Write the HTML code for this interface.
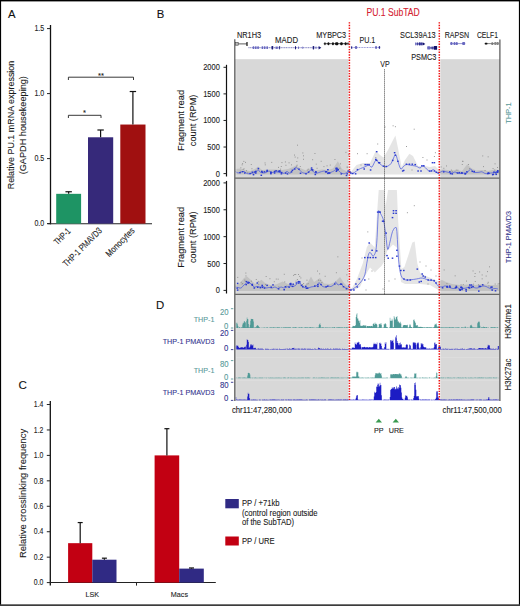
<!DOCTYPE html>
<html><head><meta charset="utf-8"><style>
html,body{margin:0;padding:0;background:#fff;}
svg{display:block;font-family:"Liberation Sans", sans-serif;}

</style></head><body>
<svg width="520" height="606" viewBox="0 0 520 606">
<rect x="0" y="0" width="520" height="606" fill="#fff"/>
<text x="0" y="0" transform="translate(8 18.1)" font-size="11.3" text-anchor="start" fill="#111" stroke="#111" stroke-width="0.1" >A</text>
<line x1="50.5" y1="25" x2="50.5" y2="224.3" stroke="#111" stroke-width="1.3" />
<line x1="47.0" y1="28.599999999999994" x2="50.5" y2="28.599999999999994" stroke="#222" stroke-width="1" />
<text x="0" y="0" transform="translate(44.2 31.199999999999996)" font-size="8.3" text-anchor="end" fill="#222" textLength="9.8" lengthAdjust="spacingAndGlyphs" stroke="#222" stroke-width="0.1" >1.5</text>
<line x1="47.0" y1="93.6" x2="50.5" y2="93.6" stroke="#222" stroke-width="1" />
<text x="0" y="0" transform="translate(44.2 96.19999999999999)" font-size="8.3" text-anchor="end" fill="#222" textLength="9.8" lengthAdjust="spacingAndGlyphs" stroke="#222" stroke-width="0.1" >1.0</text>
<line x1="47.0" y1="158.6" x2="50.5" y2="158.6" stroke="#222" stroke-width="1" />
<text x="0" y="0" transform="translate(44.2 161.2)" font-size="8.3" text-anchor="end" fill="#222" textLength="9.8" lengthAdjust="spacingAndGlyphs" stroke="#222" stroke-width="0.1" >0.5</text>
<line x1="47.0" y1="223.6" x2="50.5" y2="223.6" stroke="#222" stroke-width="1" />
<text x="0" y="0" transform="translate(44.2 226.2)" font-size="8.3" text-anchor="end" fill="#222" textLength="9.8" lengthAdjust="spacingAndGlyphs" stroke="#222" stroke-width="0.1" >0.0</text>
<line x1="47.5" y1="223.75" x2="152" y2="223.75" stroke="#222" stroke-width="1.1" />
<rect x="56.2" y="193.82999999999998" width="24.89999999999999" height="29.77000000000001" fill="#1e9464" />
<line x1="68.65" y1="191.75" x2="68.65" y2="193.82999999999998" stroke="#111" stroke-width="1.2" />
<line x1="65.45" y1="191.75" x2="71.85000000000001" y2="191.75" stroke="#111" stroke-width="1.2" />
<rect x="88" y="137.27999999999997" width="25.200000000000003" height="86.32000000000002" fill="#36297a" />
<line x1="100.6" y1="130.0" x2="100.6" y2="137.27999999999997" stroke="#111" stroke-width="1.2" />
<line x1="97.39999999999999" y1="130.0" x2="103.8" y2="130.0" stroke="#111" stroke-width="1.2" />
<rect x="120.3" y="124.53999999999999" width="25.200000000000003" height="99.06" fill="#a01010" />
<line x1="132.9" y1="91.51999999999998" x2="132.9" y2="124.53999999999999" stroke="#111" stroke-width="1.2" />
<line x1="129.70000000000002" y1="91.51999999999998" x2="136.1" y2="91.51999999999998" stroke="#111" stroke-width="1.2" />
<path d="M68.4 80 V77.2 H133.5 V80" fill="none" stroke="#222" stroke-width="0.9"/>
<path d="M68.4 118 V115.3 H101 V118" fill="none" stroke="#222" stroke-width="0.9"/>
<text x="0" y="0" transform="translate(100.9 77.8)" font-size="7.5" text-anchor="middle" fill="#1a1a1a" stroke="#1a1a1a" stroke-width="0.1" >**</text>
<text x="0" y="0" transform="translate(84.4 115.4)" font-size="7.5" text-anchor="middle" fill="#1a1a1a" stroke="#1a1a1a" stroke-width="0.1" >*</text>
<text x="0" y="0" transform="translate(71.2 231.8) rotate(-45)" font-size="9.2" text-anchor="end" fill="#1a1a1a" textLength="19.5" lengthAdjust="spacingAndGlyphs" stroke="#1a1a1a" stroke-width="0.1" >THP-1</text>
<text x="0" y="0" transform="translate(102.6 231.3) rotate(-45)" font-size="9.2" text-anchor="end" fill="#1a1a1a" textLength="51" lengthAdjust="spacingAndGlyphs" stroke="#1a1a1a" stroke-width="0.1" >THP-1 PMAVD3</text>
<text x="0" y="0" transform="translate(135.3 231.3) rotate(-45)" font-size="9.2" text-anchor="end" fill="#1a1a1a" textLength="37" lengthAdjust="spacingAndGlyphs" stroke="#1a1a1a" stroke-width="0.1" >Monocytes</text>
<text x="0" y="0" transform="translate(13.9 125.0) rotate(-90)" font-size="9.8" text-anchor="middle" fill="#1a1a1a" textLength="128.6" lengthAdjust="spacingAndGlyphs" stroke="#1a1a1a" stroke-width="0.1" >Relative PU.1 mRNA expression</text>
<text x="0" y="0" transform="translate(26.1 125.2) rotate(-90)" font-size="9.8" text-anchor="middle" fill="#1a1a1a" textLength="98.2" lengthAdjust="spacingAndGlyphs" stroke="#1a1a1a" stroke-width="0.1" >(GAPDH housekeeping)</text>
<text x="0" y="0" transform="translate(18.5 389)" font-size="11.6" text-anchor="start" fill="#111" stroke="#111" stroke-width="0.1" >C</text>
<line x1="50.3" y1="401" x2="50.3" y2="585.5" stroke="#111" stroke-width="1.3" />
<line x1="46.8" y1="582.6" x2="50.3" y2="582.6" stroke="#222" stroke-width="1" />
<text x="0" y="0" transform="translate(43.4 585.3000000000001)" font-size="8.3" text-anchor="end" fill="#222" textLength="9.6" lengthAdjust="spacingAndGlyphs" stroke="#222" stroke-width="0.1" >0.0</text>
<line x1="46.8" y1="557.16" x2="50.3" y2="557.16" stroke="#222" stroke-width="1" />
<text x="0" y="0" transform="translate(43.4 559.86)" font-size="8.3" text-anchor="end" fill="#222" textLength="9.6" lengthAdjust="spacingAndGlyphs" stroke="#222" stroke-width="0.1" >0.2</text>
<line x1="46.8" y1="531.72" x2="50.3" y2="531.72" stroke="#222" stroke-width="1" />
<text x="0" y="0" transform="translate(43.4 534.4200000000001)" font-size="8.3" text-anchor="end" fill="#222" textLength="9.6" lengthAdjust="spacingAndGlyphs" stroke="#222" stroke-width="0.1" >0.4</text>
<line x1="46.8" y1="506.28000000000003" x2="50.3" y2="506.28000000000003" stroke="#222" stroke-width="1" />
<text x="0" y="0" transform="translate(43.4 508.98)" font-size="8.3" text-anchor="end" fill="#222" textLength="9.6" lengthAdjust="spacingAndGlyphs" stroke="#222" stroke-width="0.1" >0.6</text>
<line x1="46.8" y1="480.84000000000003" x2="50.3" y2="480.84000000000003" stroke="#222" stroke-width="1" />
<text x="0" y="0" transform="translate(43.4 483.54)" font-size="8.3" text-anchor="end" fill="#222" textLength="9.6" lengthAdjust="spacingAndGlyphs" stroke="#222" stroke-width="0.1" >0.8</text>
<line x1="46.8" y1="455.40000000000003" x2="50.3" y2="455.40000000000003" stroke="#222" stroke-width="1" />
<text x="0" y="0" transform="translate(43.4 458.1)" font-size="8.3" text-anchor="end" fill="#222" textLength="9.6" lengthAdjust="spacingAndGlyphs" stroke="#222" stroke-width="0.1" >1.0</text>
<line x1="46.8" y1="429.96000000000004" x2="50.3" y2="429.96000000000004" stroke="#222" stroke-width="1" />
<text x="0" y="0" transform="translate(43.4 432.66)" font-size="8.3" text-anchor="end" fill="#222" textLength="9.6" lengthAdjust="spacingAndGlyphs" stroke="#222" stroke-width="0.1" >1.2</text>
<line x1="46.8" y1="404.52" x2="50.3" y2="404.52" stroke="#222" stroke-width="1" />
<text x="0" y="0" transform="translate(43.4 407.21999999999997)" font-size="8.3" text-anchor="end" fill="#222" textLength="9.6" lengthAdjust="spacingAndGlyphs" stroke="#222" stroke-width="0.1" >1.4</text>
<line x1="50.3" y1="582.5" x2="215.8" y2="582.5" stroke="#222" stroke-width="1.1" />
<line x1="136.5" y1="582.5" x2="136.5" y2="585.6" stroke="#222" stroke-width="1" />
<rect x="68.1" y="543.168" width="24.200000000000003" height="39.432000000000016" fill="#c20012" />
<line x1="80.19999999999999" y1="522.5616" x2="80.19999999999999" y2="543.168" stroke="#111" stroke-width="1.2" />
<line x1="77.69999999999999" y1="522.5616" x2="82.69999999999999" y2="522.5616" stroke="#111" stroke-width="1.2" />
<rect x="92.3" y="559.7040000000001" width="24.200000000000003" height="22.895999999999958" fill="#302a84" />
<line x1="104.4" y1="558.1776" x2="104.4" y2="559.7040000000001" stroke="#111" stroke-width="1.2" />
<line x1="101.9" y1="558.1776" x2="106.9" y2="558.1776" stroke="#111" stroke-width="1.2" />
<rect x="154.6" y="455.40000000000003" width="24.599999999999994" height="127.19999999999999" fill="#c20012" />
<line x1="166.89999999999998" y1="428.688" x2="166.89999999999998" y2="455.40000000000003" stroke="#111" stroke-width="1.2" />
<line x1="164.39999999999998" y1="428.688" x2="169.39999999999998" y2="428.688" stroke="#111" stroke-width="1.2" />
<rect x="179.2" y="568.6080000000001" width="24.600000000000023" height="13.991999999999962" fill="#302a84" />
<line x1="191.5" y1="567.972" x2="191.5" y2="568.6080000000001" stroke="#111" stroke-width="1.2" />
<line x1="189.0" y1="567.972" x2="194.0" y2="567.972" stroke="#111" stroke-width="1.2" />
<text x="0" y="0" transform="translate(92.3 596.8) scale(0.9 1)" font-size="8" text-anchor="middle" fill="#222" stroke="#222" stroke-width="0.1" >LSK</text>
<text x="0" y="0" transform="translate(179.4 596.8) scale(0.9 1)" font-size="8" text-anchor="middle" fill="#222" stroke="#222" stroke-width="0.1" >Macs</text>
<text x="0" y="0" transform="translate(26.2 493.5) rotate(-90)" font-size="9.8" text-anchor="middle" fill="#1a1a1a" textLength="129.2" lengthAdjust="spacingAndGlyphs" stroke="#1a1a1a" stroke-width="0.1" >Relative crosslinking frequency</text>
<rect x="225.3" y="499" width="13.5" height="9.3" fill="#302a84" />
<rect x="225.3" y="536.5" width="13.5" height="9" fill="#c20012" />
<text x="0" y="0" transform="translate(242.0 506.4) scale(0.89 1)" font-size="8.6" text-anchor="start" fill="#1a1a1a" stroke="#1a1a1a" stroke-width="0.1" >PP / +71kb</text>
<text x="0" y="0" transform="translate(242.0 515.5) scale(0.89 1)" font-size="8.6" text-anchor="start" fill="#1a1a1a" stroke="#1a1a1a" stroke-width="0.1" >(control region outside</text>
<text x="0" y="0" transform="translate(242.0 524.6) scale(0.89 1)" font-size="8.6" text-anchor="start" fill="#1a1a1a" stroke="#1a1a1a" stroke-width="0.1" >of the SubTAD)</text>
<text x="0" y="0" transform="translate(242.0 544.0) scale(0.89 1)" font-size="8.6" text-anchor="start" fill="#1a1a1a" stroke="#1a1a1a" stroke-width="0.1" >PP / URE</text>
<text x="0" y="0" transform="translate(156.8 17.7)" font-size="11.3" text-anchor="start" fill="#111" stroke="#111" stroke-width="0.1" >B</text>
<text x="0" y="0" transform="translate(366.4 16.2)" font-size="10.3" text-anchor="start" fill="#d42030" textLength="53.4" lengthAdjust="spacingAndGlyphs" stroke="#d42030" stroke-width="0.1" >PU.1 SubTAD</text>
<rect x="234.8" y="59.2" width="113.59999999999997" height="235.3" fill="#d8d8d8" />
<rect x="440.4" y="59.2" width="59.5" height="235.3" fill="#d8d8d8" />
<rect x="234.8" y="294.5" width="113.59999999999997" height="106.5" fill="#d8d8d8" />
<rect x="440.4" y="294.5" width="59.5" height="106.5" fill="#d8d8d8" />
<polygon points="235.5,169.0 240.0,168.5 245.0,170.0 250.0,171.0 255.0,169.0 258.0,166.5 262.0,170.0 268.0,169.5 275.0,169.5 282.0,170.0 288.0,169.0 293.0,167.0 296.0,165.5 300.0,168.0 306.0,170.5 311.0,168.0 316.0,170.5 322.0,169.5 328.0,170.0 333.0,168.5 337.9,161.2 342.0,169.0 346.0,171.0 349.0,172.0 350.8,172.0 356.5,165.0 363.0,163.0 370.0,163.0 375.8,150.8 380.0,155.0 383.5,157.5 388.0,150.0 392.0,142.0 395.4,135.4 398.0,148.0 401.7,167.0 405.0,160.0 409.4,153.7 413.0,156.0 418.0,166.0 425.0,166.0 430.0,167.0 435.0,166.0 439.0,170.0 444.0,169.5 450.0,170.5 456.0,170.0 462.0,171.0 467.3,164.2 471.0,168.0 476.0,170.5 482.0,170.0 488.0,171.0 494.0,169.5 499.0,170.0 499.0,174.5 235.5,174.5" fill="#000" fill-opacity="0.1"/>
<polygon points="235.5,285.0 240.0,283.0 244.0,278.0 247.0,276.5 251.0,280.0 255.0,284.0 258.0,282.0 261.5,279.8 265.0,283.0 270.0,285.0 276.0,284.5 282.6,281.5 288.0,284.0 294.0,284.0 300.0,283.5 305.0,285.0 308.0,282.0 311.0,276.5 314.0,282.0 320.0,278.0 324.0,283.5 330.0,284.0 335.0,282.0 340.0,277.0 344.0,283.0 349.0,288.0 352.0,288.0 356.9,279.0 362.8,263.2 366.8,247.3 369.8,242.4 374.7,247.3 377.7,203.8 378.7,190.0 384.2,190.0 385.6,206.0 388.0,190.0 396.9,190.0 398.1,219.6 401.4,269.0 404.4,267.0 408.4,255.0 412.3,242.4 414.7,241.4 417.3,263.2 420.2,273.0 428.2,277.0 438.0,281.0 442.0,280.0 446.0,282.0 452.0,284.0 460.0,285.0 468.0,284.5 475.0,285.0 482.0,284.0 490.0,285.0 499.0,285.0 499.0,291.0 440.0,291.0 430.0,285.0 420.0,284.0 405.0,284.0 401.0,282.0 397.0,247.7 393.0,244.4 387.2,251.0 384.0,262.0 381.5,265.9 378.2,269.0 374.9,272.5 370.0,267.5 365.0,276.0 360.0,287.0 352.0,291.0 235.5,291.0" fill="#000" fill-opacity="0.1"/>
<rect x="392.6" y="125.3" width="1" height="1" fill="#999"/>
<rect x="394.9" y="126.2" width="1" height="1" fill="#999"/>
<rect x="413.7" y="128.7" width="1" height="1" fill="#999"/>
<rect x="406.0" y="146.0" width="1" height="1" fill="#999"/>
<rect x="377.2" y="143.5" width="1" height="1" fill="#999"/>
<rect x="357.0" y="153.2" width="1" height="1" fill="#999"/>
<rect x="366.6" y="153.2" width="1" height="1" fill="#999"/>
<rect x="422.4" y="157.0" width="1" height="1" fill="#999"/>
<rect x="433.9" y="156.0" width="1" height="1" fill="#999"/>
<rect x="434.9" y="152.2" width="1" height="1" fill="#999"/>
<rect x="375.3" y="157.0" width="1" height="1" fill="#999"/>
<rect x="346.4" y="166.6" width="1" height="1" fill="#999"/>
<rect x="384.5" y="126.5" width="1" height="1" fill="#999"/>
<rect x="360.5" y="164.5" width="1" height="1" fill="#999"/>
<rect x="411.5" y="169.5" width="1" height="1" fill="#999"/>
<rect x="426.5" y="159.5" width="1" height="1" fill="#999"/>
<rect x="367.3" y="231.4" width="1" height="1" fill="#999"/>
<rect x="413.8" y="205.2" width="1" height="1" fill="#999"/>
<rect x="406.9" y="212.2" width="1" height="1" fill="#999"/>
<rect x="368.3" y="278.5" width="1" height="1" fill="#999"/>
<rect x="361.5" y="257.5" width="1" height="1" fill="#999"/>
<rect x="371.5" y="270.5" width="1" height="1" fill="#999"/>
<rect x="419.5" y="261.5" width="1" height="1" fill="#999"/>
<rect x="425.5" y="265.5" width="1" height="1" fill="#999"/>
<rect x="430.5" y="269.5" width="1" height="1" fill="#999"/>
<rect x="388.5" y="280.5" width="1" height="1" fill="#999"/>
<rect x="394.5" y="278.5" width="1" height="1" fill="#999"/>
<rect x="427.5" y="283.5" width="1" height="1" fill="#999"/>
<rect x="435.5" y="275.5" width="1" height="1" fill="#999"/>
<rect x="365.5" y="289.5" width="1" height="1" fill="#999"/>
<rect x="382.5" y="288.5" width="1" height="1" fill="#999"/>
<rect x="271.3" y="161.9" width="0.9" height="0.9" fill="#888"/>
<rect x="303.1" y="158.8" width="0.9" height="0.9" fill="#888"/>
<rect x="443.4" y="167.8" width="0.9" height="0.9" fill="#888"/>
<rect x="455.8" y="169.6" width="0.9" height="0.9" fill="#888"/>
<rect x="349.8" y="171.4" width="0.9" height="0.9" fill="#888"/>
<rect x="296.2" y="165.7" width="0.9" height="0.9" fill="#888"/>
<rect x="484.6" y="170.0" width="0.9" height="0.9" fill="#888"/>
<rect x="242.7" y="168.9" width="0.9" height="0.9" fill="#888"/>
<rect x="483.0" y="166.2" width="0.9" height="0.9" fill="#888"/>
<rect x="347.0" y="166.7" width="0.9" height="0.9" fill="#888"/>
<rect x="243.6" y="168.4" width="0.9" height="0.9" fill="#888"/>
<rect x="297.3" y="157.5" width="0.9" height="0.9" fill="#888"/>
<rect x="296.7" y="164.7" width="0.9" height="0.9" fill="#888"/>
<rect x="312.2" y="159.3" width="0.9" height="0.9" fill="#888"/>
<rect x="241.7" y="164.4" width="0.9" height="0.9" fill="#888"/>
<rect x="284.9" y="161.5" width="0.9" height="0.9" fill="#888"/>
<rect x="497.0" y="167.1" width="0.9" height="0.9" fill="#888"/>
<rect x="323.5" y="166.2" width="0.9" height="0.9" fill="#888"/>
<rect x="482.3" y="155.5" width="0.9" height="0.9" fill="#888"/>
<rect x="315.8" y="163.7" width="0.9" height="0.9" fill="#888"/>
<rect x="468.1" y="164.1" width="0.9" height="0.9" fill="#888"/>
<rect x="245.1" y="161.9" width="0.9" height="0.9" fill="#888"/>
<rect x="299.8" y="166.1" width="0.9" height="0.9" fill="#888"/>
<rect x="281.5" y="162.2" width="0.9" height="0.9" fill="#888"/>
<rect x="334.5" y="159.1" width="0.9" height="0.9" fill="#888"/>
<rect x="440.7" y="166.5" width="0.9" height="0.9" fill="#888"/>
<rect x="339.4" y="167.8" width="0.9" height="0.9" fill="#888"/>
<rect x="247.4" y="171.9" width="0.9" height="0.9" fill="#888"/>
<rect x="494.6" y="163.4" width="0.9" height="0.9" fill="#888"/>
<rect x="280.8" y="166.0" width="0.9" height="0.9" fill="#888"/>
<rect x="494.3" y="169.6" width="0.9" height="0.9" fill="#888"/>
<rect x="462.3" y="160.7" width="0.9" height="0.9" fill="#888"/>
<rect x="297.1" y="144.7" width="0.9" height="0.9" fill="#888"/>
<rect x="306.8" y="169.6" width="0.9" height="0.9" fill="#888"/>
<rect x="487.7" y="156.4" width="0.9" height="0.9" fill="#888"/>
<rect x="451.8" y="170.9" width="0.9" height="0.9" fill="#888"/>
<rect x="469.1" y="168.2" width="0.9" height="0.9" fill="#888"/>
<rect x="348.1" y="154.4" width="0.9" height="0.9" fill="#888"/>
<rect x="250.8" y="164.1" width="0.9" height="0.9" fill="#888"/>
<rect x="288.6" y="162.4" width="0.9" height="0.9" fill="#888"/>
<rect x="329.8" y="164.6" width="0.9" height="0.9" fill="#888"/>
<rect x="243.4" y="160.9" width="0.9" height="0.9" fill="#888"/>
<rect x="296.4" y="161.1" width="0.9" height="0.9" fill="#888"/>
<rect x="462.4" y="161.1" width="0.9" height="0.9" fill="#888"/>
<rect x="446.0" y="165.5" width="0.9" height="0.9" fill="#888"/>
<rect x="303.1" y="155.4" width="0.9" height="0.9" fill="#888"/>
<rect x="457.4" y="169.7" width="0.9" height="0.9" fill="#888"/>
<rect x="240.4" y="167.4" width="0.9" height="0.9" fill="#888"/>
<rect x="239.8" y="170.7" width="0.9" height="0.9" fill="#888"/>
<rect x="264.8" y="164.4" width="0.9" height="0.9" fill="#888"/>
<rect x="326.6" y="165.4" width="0.9" height="0.9" fill="#888"/>
<rect x="280.2" y="168.7" width="0.9" height="0.9" fill="#888"/>
<rect x="307.8" y="168.7" width="0.9" height="0.9" fill="#888"/>
<rect x="320.7" y="160.8" width="0.9" height="0.9" fill="#888"/>
<rect x="242.2" y="163.2" width="0.9" height="0.9" fill="#888"/>
<rect x="285.5" y="164.8" width="0.9" height="0.9" fill="#888"/>
<rect x="264.6" y="162.5" width="0.9" height="0.9" fill="#888"/>
<rect x="291.0" y="164.4" width="0.9" height="0.9" fill="#888"/>
<rect x="450.9" y="169.6" width="0.9" height="0.9" fill="#888"/>
<rect x="274.5" y="170.2" width="0.9" height="0.9" fill="#888"/>
<rect x="278.1" y="166.9" width="0.9" height="0.9" fill="#888"/>
<rect x="294.0" y="154.6" width="0.9" height="0.9" fill="#888"/>
<rect x="492.6" y="168.1" width="0.9" height="0.9" fill="#888"/>
<rect x="294.7" y="156.6" width="0.9" height="0.9" fill="#888"/>
<rect x="339.9" y="163.4" width="0.9" height="0.9" fill="#888"/>
<rect x="251.5" y="168.3" width="0.9" height="0.9" fill="#888"/>
<rect x="314.5" y="153.1" width="0.9" height="0.9" fill="#888"/>
<rect x="316.6" y="167.8" width="0.9" height="0.9" fill="#888"/>
<rect x="461.8" y="164.0" width="0.9" height="0.9" fill="#888"/>
<rect x="345.5" y="151.9" width="0.9" height="0.9" fill="#888"/>
<rect x="302.4" y="152.5" width="0.9" height="0.9" fill="#888"/>
<rect x="246.0" y="170.3" width="0.9" height="0.9" fill="#888"/>
<rect x="487.4" y="282.8" width="0.9" height="0.9" fill="#888"/>
<rect x="258.3" y="284.2" width="0.9" height="0.9" fill="#888"/>
<rect x="455.7" y="285.2" width="0.9" height="0.9" fill="#888"/>
<rect x="317.0" y="270.6" width="0.9" height="0.9" fill="#888"/>
<rect x="277.7" y="278.7" width="0.9" height="0.9" fill="#888"/>
<rect x="497.6" y="283.6" width="0.9" height="0.9" fill="#888"/>
<rect x="485.7" y="275.6" width="0.9" height="0.9" fill="#888"/>
<rect x="306.5" y="283.6" width="0.9" height="0.9" fill="#888"/>
<rect x="245.4" y="272.6" width="0.9" height="0.9" fill="#888"/>
<rect x="319.8" y="280.2" width="0.9" height="0.9" fill="#888"/>
<rect x="335.9" y="272.3" width="0.9" height="0.9" fill="#888"/>
<rect x="298.1" y="274.1" width="0.9" height="0.9" fill="#888"/>
<rect x="242.3" y="283.0" width="0.9" height="0.9" fill="#888"/>
<rect x="498.7" y="283.2" width="0.9" height="0.9" fill="#888"/>
<rect x="283.8" y="273.8" width="0.9" height="0.9" fill="#888"/>
<rect x="474.4" y="276.1" width="0.9" height="0.9" fill="#888"/>
<rect x="443.7" y="269.5" width="0.9" height="0.9" fill="#888"/>
<rect x="489.0" y="266.4" width="0.9" height="0.9" fill="#888"/>
<rect x="278.4" y="286.4" width="0.9" height="0.9" fill="#888"/>
<rect x="479.2" y="271.5" width="0.9" height="0.9" fill="#888"/>
<rect x="454.7" y="275.4" width="0.9" height="0.9" fill="#888"/>
<rect x="472.6" y="270.5" width="0.9" height="0.9" fill="#888"/>
<rect x="478.0" y="284.4" width="0.9" height="0.9" fill="#888"/>
<rect x="294.3" y="274.1" width="0.9" height="0.9" fill="#888"/>
<rect x="321.4" y="282.1" width="0.9" height="0.9" fill="#888"/>
<rect x="474.8" y="281.0" width="0.9" height="0.9" fill="#888"/>
<rect x="306.5" y="279.7" width="0.9" height="0.9" fill="#888"/>
<rect x="487.8" y="281.8" width="0.9" height="0.9" fill="#888"/>
<rect x="318.0" y="279.7" width="0.9" height="0.9" fill="#888"/>
<rect x="481.7" y="274.5" width="0.9" height="0.9" fill="#888"/>
<rect x="255.8" y="279.0" width="0.9" height="0.9" fill="#888"/>
<rect x="474.7" y="273.0" width="0.9" height="0.9" fill="#888"/>
<rect x="286.3" y="285.6" width="0.9" height="0.9" fill="#888"/>
<rect x="307.8" y="283.3" width="0.9" height="0.9" fill="#888"/>
<rect x="295.6" y="280.7" width="0.9" height="0.9" fill="#888"/>
<rect x="460.6" y="284.4" width="0.9" height="0.9" fill="#888"/>
<rect x="300.4" y="277.5" width="0.9" height="0.9" fill="#888"/>
<rect x="347.2" y="269.1" width="0.9" height="0.9" fill="#888"/>
<rect x="244.4" y="279.6" width="0.9" height="0.9" fill="#888"/>
<rect x="257.8" y="280.9" width="0.9" height="0.9" fill="#888"/>
<rect x="487.0" y="271.2" width="0.9" height="0.9" fill="#888"/>
<rect x="241.6" y="283.6" width="0.9" height="0.9" fill="#888"/>
<rect x="303.2" y="283.1" width="0.9" height="0.9" fill="#888"/>
<rect x="284.3" y="281.5" width="0.9" height="0.9" fill="#888"/>
<rect x="337.4" y="256.4" width="0.9" height="0.9" fill="#888"/>
<rect x="275.8" y="278.6" width="0.9" height="0.9" fill="#888"/>
<rect x="245.5" y="275.5" width="0.9" height="0.9" fill="#888"/>
<rect x="265.7" y="276.1" width="0.9" height="0.9" fill="#888"/>
<rect x="324.7" y="275.8" width="0.9" height="0.9" fill="#888"/>
<rect x="473.2" y="283.7" width="0.9" height="0.9" fill="#888"/>
<rect x="462.8" y="284.2" width="0.9" height="0.9" fill="#888"/>
<rect x="295.3" y="274.1" width="0.9" height="0.9" fill="#888"/>
<rect x="319.2" y="273.4" width="0.9" height="0.9" fill="#888"/>
<rect x="466.1" y="280.6" width="0.9" height="0.9" fill="#888"/>
<rect x="269.5" y="278.3" width="0.9" height="0.9" fill="#888"/>
<rect x="273.8" y="281.3" width="0.9" height="0.9" fill="#888"/>
<rect x="488.4" y="285.5" width="0.9" height="0.9" fill="#888"/>
<rect x="346.4" y="274.4" width="0.9" height="0.9" fill="#888"/>
<rect x="240.7" y="281.8" width="0.9" height="0.9" fill="#888"/>
<rect x="250.9" y="280.7" width="0.9" height="0.9" fill="#888"/>
<rect x="244.8" y="280.8" width="0.9" height="0.9" fill="#888"/>
<rect x="494.7" y="283.6" width="0.9" height="0.9" fill="#888"/>
<rect x="481.7" y="278.4" width="0.9" height="0.9" fill="#888"/>
<rect x="302.0" y="284.2" width="0.9" height="0.9" fill="#888"/>
<rect x="446.5" y="283.2" width="0.9" height="0.9" fill="#888"/>
<rect x="347.3" y="280.4" width="0.9" height="0.9" fill="#888"/>
<rect x="237.3" y="276.9" width="0.9" height="0.9" fill="#888"/>
<rect x="265.2" y="284.1" width="0.9" height="0.9" fill="#888"/>
<rect x="299.3" y="275.9" width="0.9" height="0.9" fill="#888"/>
<rect x="296.9" y="279.1" width="0.9" height="0.9" fill="#888"/>
<rect x="293.2" y="274.9" width="0.9" height="0.9" fill="#888"/>
<polyline points="235.5,171.5 236.1,172.0 237.0,172.6 238.0,173.0 239.0,172.8 240.0,172.4 241.0,172.0 242.0,171.7 243.0,171.5 244.0,171.5 245.0,172.0 246.0,172.9 247.0,173.5 248.0,173.8 249.0,173.8 250.0,173.8 251.0,173.6 252.0,173.3 253.0,173.0 254.0,172.9 255.1,172.8 256.0,172.5 256.7,171.5 257.4,170.2 258.0,169.5 258.6,170.0 259.3,171.1 260.0,172.0 260.9,172.5 262.0,172.8 263.0,173.0 264.0,173.0 265.0,172.8 266.0,172.5 267.0,172.0 268.0,171.3 269.0,171.0 270.0,171.4 271.0,172.1 272.0,172.5 273.0,172.4 274.0,172.0 275.0,171.8 276.0,171.9 277.0,172.0 278.0,172.2 279.0,172.3 280.0,172.4 281.0,172.5 282.0,172.8 283.0,173.2 284.0,173.3 285.0,172.8 286.0,171.9 287.0,171.5 288.0,172.0 289.0,172.9 290.0,173.3 291.0,172.5 292.0,171.2 293.0,170.0 293.9,168.9 294.8,167.9 295.8,167.5 296.9,167.9 298.0,168.8 299.2,169.8 300.4,170.8 301.5,171.9 302.7,172.7 303.9,173.1 305.1,173.3 306.2,173.3 307.2,173.0 308.1,172.6 309.0,172.0 309.7,171.1 310.4,170.1 311.3,169.8 312.5,170.7 313.9,172.3 315.4,173.3 316.9,173.2 318.4,172.7 320.0,172.1 321.5,171.6 323.1,171.2 324.6,171.0 326.1,171.5 327.7,172.3 329.2,172.7 330.8,172.4 332.4,171.7 333.8,171.0 334.8,170.2 335.7,169.4 336.7,169.2 338.0,170.1 339.4,171.5 340.8,172.7 342.0,173.3 343.1,173.7 344.2,173.8 345.4,173.3 346.6,172.6 347.7,172.1 348.5,172.2 349.1,172.6 349.8,172.9 350.6,173.3 351.5,173.6 352.7,173.5 354.4,172.5 356.5,171.0 358.5,169.6 360.4,168.6 362.4,167.8 364.2,167.1 365.9,166.3 367.6,165.5 369.0,165.2 370.1,165.9 371.0,167.0 372.0,167.1 373.2,165.0 374.6,162.0 375.8,160.0 376.8,160.2 377.7,161.4 378.7,162.7 379.9,163.8 381.2,164.9 382.5,165.8 383.7,166.4 385.0,166.8 386.3,166.7 387.9,166.1 389.6,165.0 391.2,163.3 392.7,160.2 394.2,156.6 395.4,154.6 396.3,155.7 397.1,158.4 397.9,161.3 398.8,164.2 399.8,167.2 400.8,169.0 401.8,168.8 402.7,167.4 403.7,166.2 404.6,165.5 405.5,164.9 406.5,164.6 407.6,164.6 408.9,164.9 410.4,165.2 412.3,165.5 414.3,165.8 416.2,166.2 417.6,166.9 418.9,167.7 420.0,168.0 421.0,167.4 421.9,166.3 422.9,165.8 424.1,166.5 425.5,167.8 426.7,169.0 427.7,170.0 428.6,171.0 429.6,171.5 430.8,171.0 432.2,170.0 433.5,169.6 434.8,170.5 436.1,171.9 437.3,172.9 438.3,173.0 439.3,172.7 440.2,172.3 441.1,171.8 442.1,171.3 443.0,171.0 444.0,171.1 445.0,171.5 446.0,171.8 447.0,172.0 448.0,172.3 449.0,172.5 450.0,172.7 451.0,173.0 452.0,173.0 453.0,172.7 454.0,172.2 455.0,172.0 456.0,172.3 457.0,172.8 458.0,173.2 459.0,173.4 460.0,173.5 461.0,173.5 462.0,173.4 463.0,173.2 464.0,173.0 465.0,173.0 465.9,173.1 467.0,172.8 468.2,171.5 469.5,169.9 470.7,169.0 471.5,169.6 472.2,170.9 473.0,172.0 473.9,172.4 475.0,172.5 476.0,172.5 477.0,172.5 478.0,172.4 479.0,172.3 480.0,172.1 481.0,171.8 482.0,171.8 483.0,172.3 484.0,173.0 485.0,173.5 486.0,173.7 487.0,173.7 488.0,173.6 489.0,173.4 490.0,173.2 491.0,173.0 492.0,172.9 493.0,172.8 494.0,172.6 495.0,172.2 496.1,171.8 497.0,171.5 497.8,171.6 498.5,171.8 499.0,172.0" fill="none" stroke="#4858e0" stroke-width="0.7"/>
<rect x="375.9" y="151.0" width="1.6" height="1.4" fill="#2a3ad0"/>
<rect x="375.0" y="158.7" width="1.6" height="1.4" fill="#2a3ad0"/>
<rect x="375.9" y="159.7" width="1.6" height="1.4" fill="#2a3ad0"/>
<rect x="382.7" y="165.5" width="1.6" height="1.4" fill="#2a3ad0"/>
<rect x="385.5" y="165.8" width="1.6" height="1.4" fill="#2a3ad0"/>
<rect x="393.8" y="152.0" width="1.6" height="1.4" fill="#2a3ad0"/>
<rect x="394.6" y="154.5" width="1.6" height="1.4" fill="#2a3ad0"/>
<rect x="391.9" y="159.7" width="1.6" height="1.4" fill="#2a3ad0"/>
<rect x="397.1" y="160.6" width="1.6" height="1.4" fill="#2a3ad0"/>
<rect x="368.2" y="163.9" width="1.6" height="1.4" fill="#2a3ad0"/>
<rect x="366.3" y="163.9" width="1.6" height="1.4" fill="#2a3ad0"/>
<rect x="364.4" y="163.9" width="1.6" height="1.4" fill="#2a3ad0"/>
<rect x="369.8" y="169.3" width="1.6" height="1.4" fill="#2a3ad0"/>
<rect x="363.4" y="168.3" width="1.6" height="1.4" fill="#2a3ad0"/>
<rect x="356.7" y="168.9" width="1.6" height="1.4" fill="#2a3ad0"/>
<rect x="354.8" y="173.1" width="1.6" height="1.4" fill="#2a3ad0"/>
<rect x="351.9" y="172.8" width="1.6" height="1.4" fill="#2a3ad0"/>
<rect x="350.0" y="172.2" width="1.6" height="1.4" fill="#2a3ad0"/>
<rect x="377.9" y="162.0" width="1.6" height="1.4" fill="#2a3ad0"/>
<rect x="378.8" y="162.0" width="1.6" height="1.4" fill="#2a3ad0"/>
<rect x="401.9" y="170.3" width="1.6" height="1.4" fill="#2a3ad0"/>
<rect x="402.9" y="169.7" width="1.6" height="1.4" fill="#2a3ad0"/>
<rect x="405.7" y="163.5" width="1.6" height="1.4" fill="#2a3ad0"/>
<rect x="408.6" y="163.5" width="1.6" height="1.4" fill="#2a3ad0"/>
<rect x="411.5" y="163.5" width="1.6" height="1.4" fill="#2a3ad0"/>
<rect x="414.4" y="163.9" width="1.6" height="1.4" fill="#2a3ad0"/>
<rect x="417.3" y="170.3" width="1.6" height="1.4" fill="#2a3ad0"/>
<rect x="420.2" y="170.3" width="1.6" height="1.4" fill="#2a3ad0"/>
<rect x="421.1" y="165.1" width="1.6" height="1.4" fill="#2a3ad0"/>
<rect x="423.0" y="165.1" width="1.6" height="1.4" fill="#2a3ad0"/>
<rect x="428.8" y="170.3" width="1.6" height="1.4" fill="#2a3ad0"/>
<rect x="430.7" y="170.3" width="1.6" height="1.4" fill="#2a3ad0"/>
<rect x="433.6" y="170.3" width="1.6" height="1.4" fill="#2a3ad0"/>
<rect x="431.7" y="162.0" width="1.6" height="1.4" fill="#2a3ad0"/>
<rect x="433.6" y="162.0" width="1.6" height="1.4" fill="#2a3ad0"/>
<rect x="435.5" y="171.6" width="1.6" height="1.4" fill="#2a3ad0"/>
<rect x="437.5" y="172.2" width="1.6" height="1.4" fill="#2a3ad0"/>
<rect x="336.3" y="169.2" width="1.6" height="1.4" fill="#2a3ad0"/>
<rect x="473.4" y="170.8" width="1.6" height="1.4" fill="#2a3ad0"/>
<rect x="311.1" y="168.9" width="1.6" height="1.4" fill="#2a3ad0"/>
<rect x="270.0" y="172.1" width="1.6" height="1.4" fill="#2a3ad0"/>
<rect x="255.0" y="170.7" width="1.6" height="1.4" fill="#2a3ad0"/>
<rect x="488.0" y="172.7" width="1.6" height="1.4" fill="#2a3ad0"/>
<rect x="496.8" y="171.2" width="1.6" height="1.4" fill="#2a3ad0"/>
<rect x="336.2" y="167.6" width="1.6" height="1.4" fill="#2a3ad0"/>
<rect x="471.5" y="170.7" width="1.6" height="1.4" fill="#2a3ad0"/>
<rect x="299.7" y="172.6" width="1.6" height="1.4" fill="#2a3ad0"/>
<rect x="487.6" y="172.5" width="1.6" height="1.4" fill="#2a3ad0"/>
<rect x="327.1" y="169.0" width="1.6" height="1.4" fill="#2a3ad0"/>
<rect x="327.1" y="172.7" width="1.6" height="1.4" fill="#2a3ad0"/>
<rect x="261.0" y="170.7" width="1.6" height="1.4" fill="#2a3ad0"/>
<rect x="251.5" y="171.5" width="1.6" height="1.4" fill="#2a3ad0"/>
<rect x="305.2" y="173.1" width="1.6" height="1.4" fill="#2a3ad0"/>
<rect x="449.8" y="172.9" width="1.6" height="1.4" fill="#2a3ad0"/>
<rect x="261.6" y="171.6" width="1.6" height="1.4" fill="#2a3ad0"/>
<rect x="284.9" y="172.4" width="1.6" height="1.4" fill="#2a3ad0"/>
<rect x="335.6" y="170.6" width="1.6" height="1.4" fill="#2a3ad0"/>
<rect x="492.6" y="173.6" width="1.6" height="1.4" fill="#2a3ad0"/>
<rect x="270.2" y="171.5" width="1.6" height="1.4" fill="#2a3ad0"/>
<rect x="458.5" y="171.9" width="1.6" height="1.4" fill="#2a3ad0"/>
<rect x="464.7" y="172.9" width="1.6" height="1.4" fill="#2a3ad0"/>
<rect x="239.2" y="172.0" width="1.6" height="1.4" fill="#2a3ad0"/>
<rect x="345.7" y="174.8" width="1.6" height="1.4" fill="#2a3ad0"/>
<rect x="260.5" y="174.6" width="1.6" height="1.4" fill="#2a3ad0"/>
<rect x="347.4" y="170.3" width="1.6" height="1.4" fill="#2a3ad0"/>
<rect x="286.7" y="173.2" width="1.6" height="1.4" fill="#2a3ad0"/>
<rect x="328.1" y="172.3" width="1.6" height="1.4" fill="#2a3ad0"/>
<rect x="310.8" y="167.3" width="1.6" height="1.4" fill="#2a3ad0"/>
<rect x="337.4" y="168.8" width="1.6" height="1.4" fill="#2a3ad0"/>
<rect x="451.5" y="173.2" width="1.6" height="1.4" fill="#2a3ad0"/>
<rect x="487.6" y="172.5" width="1.6" height="1.4" fill="#2a3ad0"/>
<rect x="449.0" y="171.1" width="1.6" height="1.4" fill="#2a3ad0"/>
<rect x="496.6" y="171.5" width="1.6" height="1.4" fill="#2a3ad0"/>
<rect x="493.2" y="171.4" width="1.6" height="1.4" fill="#2a3ad0"/>
<rect x="279.0" y="170.2" width="1.6" height="1.4" fill="#2a3ad0"/>
<rect x="255.0" y="172.3" width="1.6" height="1.4" fill="#2a3ad0"/>
<rect x="315.2" y="171.5" width="1.6" height="1.4" fill="#2a3ad0"/>
<rect x="291.6" y="169.6" width="1.6" height="1.4" fill="#2a3ad0"/>
<rect x="253.7" y="171.3" width="1.6" height="1.4" fill="#2a3ad0"/>
<rect x="497.0" y="170.0" width="1.6" height="1.4" fill="#2a3ad0"/>
<rect x="442.9" y="171.2" width="1.6" height="1.4" fill="#2a3ad0"/>
<rect x="290.7" y="171.2" width="1.6" height="1.4" fill="#2a3ad0"/>
<rect x="263.7" y="171.1" width="1.6" height="1.4" fill="#2a3ad0"/>
<rect x="335.9" y="169.4" width="1.6" height="1.4" fill="#2a3ad0"/>
<rect x="348.9" y="170.9" width="1.6" height="1.4" fill="#2a3ad0"/>
<rect x="252.7" y="174.0" width="1.6" height="1.4" fill="#2a3ad0"/>
<rect x="495.4" y="173.7" width="1.6" height="1.4" fill="#2a3ad0"/>
<rect x="270.1" y="173.0" width="1.6" height="1.4" fill="#2a3ad0"/>
<rect x="460.8" y="172.1" width="1.6" height="1.4" fill="#2a3ad0"/>
<rect x="298.2" y="168.5" width="1.6" height="1.4" fill="#2a3ad0"/>
<rect x="315.0" y="171.1" width="1.6" height="1.4" fill="#2a3ad0"/>
<rect x="280.8" y="171.8" width="1.6" height="1.4" fill="#2a3ad0"/>
<rect x="279.0" y="170.9" width="1.6" height="1.4" fill="#2a3ad0"/>
<rect x="335.3" y="167.6" width="1.6" height="1.4" fill="#2a3ad0"/>
<rect x="294.0" y="168.3" width="1.6" height="1.4" fill="#2a3ad0"/>
<rect x="491.9" y="174.0" width="1.6" height="1.4" fill="#2a3ad0"/>
<rect x="314.5" y="173.8" width="1.6" height="1.4" fill="#2a3ad0"/>
<rect x="456.7" y="172.3" width="1.6" height="1.4" fill="#2a3ad0"/>
<rect x="466.1" y="171.1" width="1.6" height="1.4" fill="#2a3ad0"/>
<rect x="280.6" y="173.1" width="1.6" height="1.4" fill="#2a3ad0"/>
<rect x="273.8" y="170.9" width="1.6" height="1.4" fill="#2a3ad0"/>
<rect x="487.0" y="172.9" width="1.6" height="1.4" fill="#2a3ad0"/>
<rect x="257.6" y="167.8" width="1.6" height="1.4" fill="#2a3ad0"/>
<rect x="328.9" y="172.4" width="1.6" height="1.4" fill="#2a3ad0"/>
<rect x="340.5" y="173.2" width="1.6" height="1.4" fill="#2a3ad0"/>
<rect x="249.3" y="172.8" width="1.6" height="1.4" fill="#2a3ad0"/>
<rect x="273.8" y="172.3" width="1.6" height="1.4" fill="#2a3ad0"/>
<rect x="346.4" y="173.1" width="1.6" height="1.4" fill="#2a3ad0"/>
<rect x="324.9" y="171.2" width="1.6" height="1.4" fill="#2a3ad0"/>
<rect x="311.9" y="169.3" width="1.6" height="1.4" fill="#2a3ad0"/>
<rect x="266.4" y="169.7" width="1.6" height="1.4" fill="#2a3ad0"/>
<rect x="266.2" y="170.6" width="1.6" height="1.4" fill="#2a3ad0"/>
<rect x="277.6" y="170.5" width="1.6" height="1.4" fill="#2a3ad0"/>
<rect x="307.8" y="171.4" width="1.6" height="1.4" fill="#2a3ad0"/>
<rect x="244.0" y="172.3" width="1.6" height="1.4" fill="#2a3ad0"/>
<rect x="325.6" y="171.0" width="1.6" height="1.4" fill="#2a3ad0"/>
<rect x="241.8" y="171.0" width="1.6" height="1.4" fill="#2a3ad0"/>
<rect x="275.3" y="170.1" width="1.6" height="1.4" fill="#2a3ad0"/>
<rect x="461.3" y="172.3" width="1.6" height="1.4" fill="#2a3ad0"/>
<rect x="495.1" y="172.1" width="1.6" height="1.4" fill="#2a3ad0"/>
<rect x="464.3" y="173.2" width="1.6" height="1.4" fill="#2a3ad0"/>
<polyline points="235.5,287.0 236.1,287.1 237.0,287.3 238.0,287.5 239.0,287.8 240.0,288.1 241.0,288.0 242.0,287.3 242.9,286.1 244.0,285.0 245.4,283.8 246.9,282.6 248.3,282.0 249.3,282.3 250.1,283.1 251.0,284.0 252.0,285.1 253.0,286.2 254.0,287.0 255.0,287.1 256.0,286.7 257.0,286.5 258.0,286.6 259.0,286.9 260.0,287.0 261.0,286.8 262.0,286.6 263.0,286.5 264.0,286.9 265.0,287.6 266.0,288.0 267.0,287.9 268.0,287.7 269.0,287.5 270.0,287.6 271.0,287.9 272.0,288.0 273.0,287.7 274.0,287.2 275.0,287.0 276.0,287.4 277.0,288.1 278.0,288.5 279.0,288.1 280.0,287.4 281.0,287.0 282.0,287.2 283.0,287.7 284.0,288.0 285.0,287.8 286.0,287.4 287.0,287.0 288.0,286.6 289.0,286.2 290.0,286.0 291.0,286.1 292.0,286.4 293.0,286.5 294.0,286.2 295.0,285.7 296.0,285.0 297.0,283.7 298.0,282.1 299.0,281.5 300.0,282.5 301.0,284.4 302.0,286.0 303.0,286.8 304.0,287.2 305.0,287.5 306.0,287.8 307.0,288.0 308.0,288.0 309.0,287.8 310.0,287.4 311.0,287.0 312.0,286.8 313.0,286.7 314.0,286.5 315.0,286.3 316.1,286.0 317.0,285.5 317.7,284.4 318.3,283.1 319.0,282.5 319.9,283.3 321.0,284.8 322.0,286.0 323.0,286.6 324.0,286.9 325.0,287.0 326.0,286.8 327.0,286.3 328.0,286.0 329.0,286.1 330.0,286.5 331.0,286.5 332.0,286.0 333.1,285.3 334.0,284.5 334.6,283.5 335.1,282.4 335.7,282.0 336.4,282.7 337.2,284.1 338.0,285.0 338.9,284.8 340.0,284.2 341.0,284.0 342.0,284.8 343.0,286.0 344.0,287.0 345.0,287.6 346.1,288.1 347.0,288.5 347.7,288.8 348.4,289.1 349.0,289.3 349.5,289.7 350.0,290.1 350.9,290.1 352.3,289.4 354.1,288.2 355.9,286.9 357.6,285.5 359.2,283.9 360.8,282.0 362.3,280.0 363.6,277.8 364.8,275.0 365.6,271.3 366.2,267.1 366.8,263.2 367.5,259.5 368.1,256.1 368.8,253.7 369.4,252.6 370.0,252.5 370.7,252.9 371.5,254.0 372.3,255.6 373.1,256.2 374.0,255.5 374.9,253.9 375.7,251.3 376.3,247.7 376.7,243.2 377.1,237.4 377.5,229.1 377.9,219.5 378.3,212.7 378.7,210.6 379.2,211.3 379.7,212.3 380.3,213.1 380.9,214.2 381.6,215.6 382.3,216.8 382.9,218.3 383.6,220.6 384.3,224.2 384.9,228.7 385.6,233.5 386.3,239.4 386.9,245.5 387.6,249.3 388.2,249.2 388.9,246.6 389.6,243.4 390.5,239.6 391.5,235.1 392.5,231.5 393.6,229.3 394.6,227.9 395.5,227.5 396.1,227.4 396.5,228.1 396.9,231.5 397.4,239.5 397.9,250.1 398.5,259.2 399.1,265.1 399.7,269.5 400.4,273.0 401.2,275.8 402.2,277.7 403.4,279.0 404.8,279.8 406.4,280.0 408.4,280.0 410.9,279.8 413.7,279.4 416.3,279.0 418.4,278.6 420.3,278.1 422.2,278.0 424.2,278.5 426.2,279.3 428.2,280.0 430.2,280.3 432.3,280.4 434.1,281.0 435.5,282.5 436.8,284.4 438.0,285.9 439.4,286.6 440.7,286.9 442.0,286.9 443.1,286.6 444.0,286.2 445.0,285.9 446.0,286.1 447.0,286.6 448.0,287.0 449.0,287.4 450.0,287.7 451.0,288.0 452.0,288.3 453.0,288.5 454.0,288.5 455.0,288.2 456.0,287.7 457.0,287.5 458.0,287.9 459.0,288.6 460.0,289.0 461.0,289.0 462.0,288.7 463.0,288.5 464.0,288.4 465.0,288.2 466.0,288.0 467.0,287.7 468.1,287.4 469.0,287.0 469.7,286.6 470.3,286.1 471.0,286.0 471.9,286.4 473.0,287.0 474.0,287.5 475.0,287.8 476.0,288.0 477.0,288.0 478.0,287.8 479.0,287.4 480.0,287.0 481.0,286.6 482.0,286.2 483.0,286.0 484.0,286.0 485.0,286.2 486.0,286.5 487.0,286.9 488.0,287.5 489.0,288.0 490.0,288.4 491.0,288.8 492.0,289.0 493.0,288.9 494.0,288.6 495.0,288.5 496.1,288.6 497.2,288.8 498.0,289.0" fill="none" stroke="#4858e0" stroke-width="0.7"/>
<rect x="376.9" y="211.4" width="1.6" height="1.4" fill="#2a3ad0"/>
<rect x="378.3" y="211.4" width="1.6" height="1.4" fill="#2a3ad0"/>
<rect x="379.4" y="211.4" width="1.6" height="1.4" fill="#2a3ad0"/>
<rect x="381.8" y="220.5" width="1.6" height="1.4" fill="#2a3ad0"/>
<rect x="382.8" y="220.5" width="1.6" height="1.4" fill="#2a3ad0"/>
<rect x="392.7" y="210.0" width="1.6" height="1.4" fill="#2a3ad0"/>
<rect x="395.3" y="210.0" width="1.6" height="1.4" fill="#2a3ad0"/>
<rect x="392.7" y="212.6" width="1.6" height="1.4" fill="#2a3ad0"/>
<rect x="395.3" y="212.6" width="1.6" height="1.4" fill="#2a3ad0"/>
<rect x="391.7" y="216.9" width="1.6" height="1.4" fill="#2a3ad0"/>
<rect x="385.4" y="232.4" width="1.6" height="1.4" fill="#2a3ad0"/>
<rect x="368.4" y="242.3" width="1.6" height="1.4" fill="#2a3ad0"/>
<rect x="371.3" y="249.6" width="1.6" height="1.4" fill="#2a3ad0"/>
<rect x="364.0" y="256.9" width="1.6" height="1.4" fill="#2a3ad0"/>
<rect x="367.0" y="256.9" width="1.6" height="1.4" fill="#2a3ad0"/>
<rect x="369.5" y="256.9" width="1.6" height="1.4" fill="#2a3ad0"/>
<rect x="372.3" y="256.9" width="1.6" height="1.4" fill="#2a3ad0"/>
<rect x="374.9" y="256.9" width="1.6" height="1.4" fill="#2a3ad0"/>
<rect x="375.9" y="250.2" width="1.6" height="1.4" fill="#2a3ad0"/>
<rect x="386.2" y="254.9" width="1.6" height="1.4" fill="#2a3ad0"/>
<rect x="387.4" y="257.5" width="1.6" height="1.4" fill="#2a3ad0"/>
<rect x="391.7" y="257.5" width="1.6" height="1.4" fill="#2a3ad0"/>
<rect x="396.1" y="249.6" width="1.6" height="1.4" fill="#2a3ad0"/>
<rect x="396.1" y="255.5" width="1.6" height="1.4" fill="#2a3ad0"/>
<rect x="398.7" y="265.4" width="1.6" height="1.4" fill="#2a3ad0"/>
<rect x="400.0" y="269.8" width="1.6" height="1.4" fill="#2a3ad0"/>
<rect x="403.0" y="269.8" width="1.6" height="1.4" fill="#2a3ad0"/>
<rect x="403.2" y="278.3" width="1.6" height="1.4" fill="#2a3ad0"/>
<rect x="406.6" y="279.3" width="1.6" height="1.4" fill="#2a3ad0"/>
<rect x="409.5" y="279.3" width="1.6" height="1.4" fill="#2a3ad0"/>
<rect x="416.5" y="268.4" width="1.6" height="1.4" fill="#2a3ad0"/>
<rect x="421.4" y="273.3" width="1.6" height="1.4" fill="#2a3ad0"/>
<rect x="422.4" y="275.3" width="1.6" height="1.4" fill="#2a3ad0"/>
<rect x="424.4" y="276.3" width="1.6" height="1.4" fill="#2a3ad0"/>
<rect x="418.5" y="281.3" width="1.6" height="1.4" fill="#2a3ad0"/>
<rect x="420.4" y="280.7" width="1.6" height="1.4" fill="#2a3ad0"/>
<rect x="427.4" y="279.3" width="1.6" height="1.4" fill="#2a3ad0"/>
<rect x="430.3" y="279.3" width="1.6" height="1.4" fill="#2a3ad0"/>
<rect x="433.3" y="279.9" width="1.6" height="1.4" fill="#2a3ad0"/>
<rect x="435.3" y="282.3" width="1.6" height="1.4" fill="#2a3ad0"/>
<rect x="358.5" y="278.3" width="1.6" height="1.4" fill="#2a3ad0"/>
<rect x="364.0" y="279.3" width="1.6" height="1.4" fill="#2a3ad0"/>
<rect x="355.1" y="283.3" width="1.6" height="1.4" fill="#2a3ad0"/>
<rect x="356.5" y="286.3" width="1.6" height="1.4" fill="#2a3ad0"/>
<rect x="350.1" y="289.3" width="1.6" height="1.4" fill="#2a3ad0"/>
<rect x="353.1" y="289.3" width="1.6" height="1.4" fill="#2a3ad0"/>
<rect x="256.5" y="282.3" width="1.6" height="1.4" fill="#2a3ad0"/>
<rect x="272.2" y="284.2" width="1.6" height="1.4" fill="#2a3ad0"/>
<rect x="459.4" y="289.1" width="1.6" height="1.4" fill="#2a3ad0"/>
<rect x="470.8" y="286.7" width="1.6" height="1.4" fill="#2a3ad0"/>
<rect x="314.0" y="285.3" width="1.6" height="1.4" fill="#2a3ad0"/>
<rect x="461.5" y="287.4" width="1.6" height="1.4" fill="#2a3ad0"/>
<rect x="236.2" y="287.5" width="1.6" height="1.4" fill="#2a3ad0"/>
<rect x="441.8" y="287.1" width="1.6" height="1.4" fill="#2a3ad0"/>
<rect x="491.4" y="289.4" width="1.6" height="1.4" fill="#2a3ad0"/>
<rect x="256.9" y="286.6" width="1.6" height="1.4" fill="#2a3ad0"/>
<rect x="455.4" y="286.8" width="1.6" height="1.4" fill="#2a3ad0"/>
<rect x="236.8" y="282.7" width="1.6" height="1.4" fill="#2a3ad0"/>
<rect x="468.0" y="286.9" width="1.6" height="1.4" fill="#2a3ad0"/>
<rect x="259.6" y="287.0" width="1.6" height="1.4" fill="#2a3ad0"/>
<rect x="325.3" y="286.2" width="1.6" height="1.4" fill="#2a3ad0"/>
<rect x="455.6" y="285.8" width="1.6" height="1.4" fill="#2a3ad0"/>
<rect x="340.0" y="283.4" width="1.6" height="1.4" fill="#2a3ad0"/>
<rect x="490.2" y="286.5" width="1.6" height="1.4" fill="#2a3ad0"/>
<rect x="478.5" y="285.6" width="1.6" height="1.4" fill="#2a3ad0"/>
<rect x="478.0" y="290.4" width="1.6" height="1.4" fill="#2a3ad0"/>
<rect x="472.3" y="285.8" width="1.6" height="1.4" fill="#2a3ad0"/>
<rect x="298.0" y="282.4" width="1.6" height="1.4" fill="#2a3ad0"/>
<rect x="446.5" y="286.1" width="1.6" height="1.4" fill="#2a3ad0"/>
<rect x="305.0" y="285.7" width="1.6" height="1.4" fill="#2a3ad0"/>
<rect x="446.4" y="285.7" width="1.6" height="1.4" fill="#2a3ad0"/>
<rect x="247.2" y="282.4" width="1.6" height="1.4" fill="#2a3ad0"/>
<rect x="270.4" y="286.5" width="1.6" height="1.4" fill="#2a3ad0"/>
<rect x="465.3" y="288.9" width="1.6" height="1.4" fill="#2a3ad0"/>
<rect x="253.5" y="287.3" width="1.6" height="1.4" fill="#2a3ad0"/>
<rect x="284.6" y="286.0" width="1.6" height="1.4" fill="#2a3ad0"/>
<rect x="247.6" y="281.8" width="1.6" height="1.4" fill="#2a3ad0"/>
<rect x="297.6" y="280.9" width="1.6" height="1.4" fill="#2a3ad0"/>
<rect x="317.1" y="285.7" width="1.6" height="1.4" fill="#2a3ad0"/>
<rect x="251.4" y="283.7" width="1.6" height="1.4" fill="#2a3ad0"/>
<rect x="291.8" y="285.7" width="1.6" height="1.4" fill="#2a3ad0"/>
<rect x="459.4" y="289.5" width="1.6" height="1.4" fill="#2a3ad0"/>
<rect x="251.6" y="284.6" width="1.6" height="1.4" fill="#2a3ad0"/>
<rect x="266.3" y="284.7" width="1.6" height="1.4" fill="#2a3ad0"/>
<rect x="236.8" y="289.4" width="1.6" height="1.4" fill="#2a3ad0"/>
<rect x="469.0" y="284.3" width="1.6" height="1.4" fill="#2a3ad0"/>
<rect x="334.0" y="283.3" width="1.6" height="1.4" fill="#2a3ad0"/>
<rect x="446.3" y="286.4" width="1.6" height="1.4" fill="#2a3ad0"/>
<rect x="494.7" y="290.1" width="1.6" height="1.4" fill="#2a3ad0"/>
<rect x="302.0" y="286.1" width="1.6" height="1.4" fill="#2a3ad0"/>
<rect x="290.0" y="282.8" width="1.6" height="1.4" fill="#2a3ad0"/>
<rect x="460.2" y="286.6" width="1.6" height="1.4" fill="#2a3ad0"/>
<rect x="245.4" y="283.9" width="1.6" height="1.4" fill="#2a3ad0"/>
<rect x="342.7" y="286.0" width="1.6" height="1.4" fill="#2a3ad0"/>
<rect x="347.9" y="285.4" width="1.6" height="1.4" fill="#2a3ad0"/>
<rect x="317.1" y="284.0" width="1.6" height="1.4" fill="#2a3ad0"/>
<rect x="245.7" y="280.9" width="1.6" height="1.4" fill="#2a3ad0"/>
<rect x="465.4" y="290.4" width="1.6" height="1.4" fill="#2a3ad0"/>
<rect x="261.4" y="284.7" width="1.6" height="1.4" fill="#2a3ad0"/>
<rect x="277.8" y="288.2" width="1.6" height="1.4" fill="#2a3ad0"/>
<rect x="292.4" y="283.5" width="1.6" height="1.4" fill="#2a3ad0"/>
<rect x="449.3" y="286.4" width="1.6" height="1.4" fill="#2a3ad0"/>
<rect x="295.6" y="282.3" width="1.6" height="1.4" fill="#2a3ad0"/>
<rect x="461.2" y="288.8" width="1.6" height="1.4" fill="#2a3ad0"/>
<rect x="479.6" y="285.7" width="1.6" height="1.4" fill="#2a3ad0"/>
<rect x="458.8" y="288.9" width="1.6" height="1.4" fill="#2a3ad0"/>
<rect x="306.8" y="287.5" width="1.6" height="1.4" fill="#2a3ad0"/>
<rect x="340.8" y="283.6" width="1.6" height="1.4" fill="#2a3ad0"/>
<rect x="320.2" y="283.8" width="1.6" height="1.4" fill="#2a3ad0"/>
<rect x="460.6" y="286.6" width="1.6" height="1.4" fill="#2a3ad0"/>
<rect x="248.2" y="282.0" width="1.6" height="1.4" fill="#2a3ad0"/>
<rect x="263.7" y="287.4" width="1.6" height="1.4" fill="#2a3ad0"/>
<rect x="481.9" y="284.1" width="1.6" height="1.4" fill="#2a3ad0"/>
<rect x="290.0" y="283.9" width="1.6" height="1.4" fill="#2a3ad0"/>
<rect x="298.9" y="281.1" width="1.6" height="1.4" fill="#2a3ad0"/>
<rect x="454.7" y="287.1" width="1.6" height="1.4" fill="#2a3ad0"/>
<rect x="289.2" y="283.3" width="1.6" height="1.4" fill="#2a3ad0"/>
<rect x="448.9" y="285.4" width="1.6" height="1.4" fill="#2a3ad0"/>
<rect x="305.7" y="287.6" width="1.6" height="1.4" fill="#2a3ad0"/>
<rect x="288.3" y="286.5" width="1.6" height="1.4" fill="#2a3ad0"/>
<rect x="283.4" y="289.0" width="1.6" height="1.4" fill="#2a3ad0"/>
<rect x="345.7" y="288.1" width="1.6" height="1.4" fill="#2a3ad0"/>
<rect x="300.7" y="284.8" width="1.6" height="1.4" fill="#2a3ad0"/>
<rect x="261.7" y="286.7" width="1.6" height="1.4" fill="#2a3ad0"/>
<rect x="470.7" y="284.3" width="1.6" height="1.4" fill="#2a3ad0"/>
<rect x="326.9" y="285.5" width="1.6" height="1.4" fill="#2a3ad0"/>
<rect x="491.2" y="286.4" width="1.6" height="1.4" fill="#2a3ad0"/>
<rect x="468.8" y="287.3" width="1.6" height="1.4" fill="#2a3ad0"/>
<path d="M235.8,328.1 L235.8,322.6 L236.3,322.6 L236.3,323.3 L236.8,323.3 L236.8,322.7 L237.3,322.7 L237.3,324.3 L237.8,324.3 L237.8,326.0 L238.3,326.0 L238.3,328.1 L238.8,328.1 L238.8,327.3 L239.3,327.3 L239.3,327.1 L239.8,327.1 L239.8,327.6 L240.3,327.6 L240.3,328.1 L240.8,328.1 L240.8,327.1 L241.3,327.1 L241.3,327.5 L241.8,327.5 L241.8,327.6 L242.3,327.6 L242.3,324.6 L242.8,324.6 L242.8,322.7 L243.3,322.7 L243.3,323.2 L243.8,323.2 L243.8,321.6 L244.3,321.6 L244.3,321.1 L244.8,321.1 L244.8,322.4 L245.3,322.4 L245.3,322.3 L245.8,322.3 L245.8,327.2 L246.3,327.2 L246.3,320.7 L246.8,320.7 L246.8,317.5 L247.3,317.5 L247.3,319.0 L247.8,319.0 L247.8,319.3 L248.3,319.3 L248.3,324.1 L248.8,324.1 L248.8,327.4 L249.3,327.4 L249.3,327.2 L249.8,327.2 L249.8,324.8 L250.3,324.8 L250.3,320.8 L250.8,320.8 L250.8,318.8 L251.3,318.8 L251.3,319.1 L251.8,319.1 L251.8,319.0 L252.3,319.0 L252.3,319.1 L252.8,319.1 L252.8,319.3 L253.3,319.3 L253.3,321.4 L253.8,321.4 L253.8,328.1 L254.3,328.1 L254.3,327.2 L254.8,327.2 L254.8,327.2 L255.3,327.2 L255.3,327.3 L255.8,327.3 L255.8,327.6 L256.3,327.6 L256.3,326.0 L256.8,326.0 L256.8,325.4 L257.3,325.4 L257.3,325.1 L257.8,325.1 L257.8,325.5 L258.3,325.5 L258.3,326.0 L258.8,326.0 L258.8,327.2 L259.3,327.2 L259.3,327.2 L259.8,327.2 L259.8,327.6 L260.3,327.6 L260.3,328.1 L260.8,328.1 L260.8,328.1 L261.3,328.1 L261.3,327.5 L261.8,327.5 L261.8,328.1 L262.3,328.1 L262.3,327.5 L262.8,327.5 L262.8,328.1 L263.3,328.1 L263.3,327.4 L263.8,327.4 L263.8,327.5 L264.3,327.5 L264.3,327.4 L264.8,327.4 L264.8,327.4 L265.3,327.4 L265.3,328.1 L265.8,328.1 L265.8,327.4 L266.3,327.4 L266.3,327.6 L266.8,327.6 L266.8,327.4 L267.3,327.4 L267.3,327.3 L267.8,327.3 L267.8,327.6 L268.3,327.6 L268.3,328.1 L268.8,328.1 L268.8,328.1 L269.3,328.1 L269.3,327.6 L269.8,327.6 L269.8,327.3 L270.3,327.3 L270.3,327.5 L270.8,327.5 L270.8,327.2 L271.3,327.2 L271.3,327.5 L271.8,327.5 L271.8,327.4 L272.3,327.4 L272.3,327.5 L272.8,327.5 L272.8,327.6 L273.3,327.6 L273.3,327.1 L273.8,327.1 L273.8,327.5 L274.3,327.5 L274.3,327.5 L274.8,327.5 L274.8,327.2 L275.3,327.2 L275.3,327.5 L275.8,327.5 L275.8,328.1 L276.3,328.1 L276.3,327.6 L276.8,327.6 L276.8,327.1 L277.3,327.1 L277.3,327.6 L277.8,327.6 L277.8,327.1 L278.3,327.1 L278.3,327.4 L278.8,327.4 L278.8,327.5 L279.3,327.5 L279.3,327.3 L279.8,327.3 L279.8,327.5 L280.3,327.5 L280.3,328.1 L280.8,328.1 L280.8,327.5 L281.3,327.5 L281.3,327.5 L281.8,327.5 L281.8,327.2 L282.3,327.2 L282.3,328.1 L282.8,328.1 L282.8,327.5 L283.3,327.5 L283.3,327.2 L283.8,327.2 L283.8,327.5 L284.3,327.5 L284.3,327.2 L284.8,327.2 L284.8,327.5 L285.3,327.5 L285.3,327.3 L285.8,327.3 L285.8,327.1 L286.3,327.1 L286.3,327.3 L286.8,327.3 L286.8,328.1 L287.3,328.1 L287.3,327.1 L287.8,327.1 L287.8,327.2 L288.3,327.2 L288.3,327.2 L288.8,327.2 L288.8,327.5 L289.3,327.5 L289.3,327.2 L289.8,327.2 L289.8,327.1 L290.3,327.1 L290.3,327.6 L290.8,327.6 L290.8,327.6 L291.3,327.6 L291.3,328.1 L291.8,328.1 L291.8,328.1 L292.3,328.1 L292.3,327.2 L292.8,327.2 L292.8,327.5 L293.3,327.5 L293.3,327.2 L293.8,327.2 L293.8,327.3 L294.3,327.3 L294.3,327.6 L294.8,327.6 L294.8,327.2 L295.3,327.2 L295.3,327.1 L295.8,327.1 L295.8,327.5 L296.3,327.5 L296.3,327.2 L296.8,327.2 L296.8,328.1 L297.3,328.1 L297.3,327.6 L297.8,327.6 L297.8,328.1 L298.3,328.1 L298.3,327.6 L298.8,327.6 L298.8,327.1 L299.3,327.1 L299.3,327.6 L299.8,327.6 L299.8,327.5 L300.3,327.5 L300.3,327.6 L300.8,327.6 L300.8,327.4 L301.3,327.4 L301.3,327.1 L301.8,327.1 L301.8,327.5 L302.3,327.5 L302.3,327.6 L302.8,327.6 L302.8,327.6 L303.3,327.6 L303.3,328.1 L303.8,328.1 L303.8,327.5 L304.3,327.5 L304.3,327.4 L304.8,327.4 L304.8,327.6 L305.3,327.6 L305.3,327.1 L305.8,327.1 L305.8,327.6 L306.3,327.6 L306.3,327.3 L306.8,327.3 L306.8,327.4 L307.3,327.4 L307.3,327.3 L307.8,327.3 L307.8,327.4 L308.3,327.4 L308.3,327.5 L308.8,327.5 L308.8,328.1 L309.3,328.1 L309.3,327.1 L309.8,327.1 L309.8,327.3 L310.3,327.3 L310.3,327.1 L310.8,327.1 L310.8,327.5 L311.3,327.5 L311.3,327.5 L311.8,327.5 L311.8,327.2 L312.3,327.2 L312.3,327.5 L312.8,327.5 L312.8,327.3 L313.3,327.3 L313.3,327.5 L313.8,327.5 L313.8,328.1 L314.3,328.1 L314.3,327.6 L314.8,327.6 L314.8,327.6 L315.3,327.6 L315.3,328.1 L315.8,328.1 L315.8,327.5 L316.3,327.5 L316.3,327.4 L316.8,327.4 L316.8,327.6 L317.3,327.6 L317.3,327.2 L317.8,327.2 L317.8,328.1 L318.3,328.1 L318.3,327.0 L318.8,327.0 L318.8,324.9 L319.3,324.9 L319.3,323.9 L319.8,323.9 L319.8,323.3 L320.3,323.3 L320.3,325.1 L320.8,325.1 L320.8,328.1 L321.3,328.1 L321.3,327.2 L321.8,327.2 L321.8,327.2 L322.3,327.2 L322.3,327.3 L322.8,327.3 L322.8,327.4 L323.3,327.4 L323.3,327.3 L323.8,327.3 L323.8,327.5 L324.3,327.5 L324.3,328.1 L324.8,328.1 L324.8,327.2 L325.3,327.2 L325.3,327.4 L325.8,327.4 L325.8,327.4 L326.3,327.4 L326.3,327.5 L326.8,327.5 L326.8,327.6 L327.3,327.6 L327.3,327.4 L327.8,327.4 L327.8,327.6 L328.3,327.6 L328.3,327.6 L328.8,327.6 L328.8,328.1 L329.3,328.1 L329.3,327.2 L329.8,327.2 L329.8,327.4 L330.3,327.4 L330.3,327.5 L330.8,327.5 L330.8,328.1 L331.3,328.1 L331.3,327.4 L331.8,327.4 L331.8,327.4 L332.3,327.4 L332.3,327.2 L332.8,327.2 L332.8,327.4 L333.3,327.4 L333.3,327.5 L333.8,327.5 L333.8,327.3 L334.3,327.3 L334.3,327.1 L334.8,327.1 L334.8,327.3 L335.3,327.3 L335.3,328.1 L335.8,328.1 L335.8,328.1 L336.3,328.1 L336.3,327.2 L336.8,327.2 L336.8,327.2 L337.3,327.2 L337.3,327.5 L337.8,327.5 L337.8,327.2 L338.3,327.2 L338.3,327.3 L338.8,327.3 L338.8,327.3 L339.3,327.3 L339.3,327.2 L339.8,327.2 L339.8,327.3 L340.3,327.3 L340.3,327.5 L340.8,327.5 L340.8,327.3 L341.3,327.3 L341.3,327.6 L341.8,327.6 L341.8,327.3 L342.3,327.3 L342.3,327.4 L342.8,327.4 L342.8,327.2 L343.3,327.2 L343.3,328.1 L343.8,328.1 L343.8,327.2 L344.3,327.2 L344.3,327.5 L344.8,327.5 L344.8,327.1 L345.3,327.1 L345.3,328.1 L345.8,328.1 L345.8,327.2 L346.3,327.2 L346.3,327.3 L346.8,327.3 L346.8,327.1 L347.3,327.1 L347.3,327.4 L347.8,327.4 L347.8,327.4 L348.3,327.4 L348.3,327.5 L348.8,327.5 L348.8,328.1 L349.3,328.1 L349.3,327.1 L349.8,327.1 L349.8,328.1 L350.3,328.1 L350.3,327.4 L350.8,327.4 L350.8,328.1 L351.3,328.1 L351.3,327.5 L351.8,327.5 L351.8,327.6 L352.3,327.6 L352.3,326.5 L352.8,326.5 L352.8,325.8 L353.3,325.8 L353.3,326.1 L353.8,326.1 L353.8,326.3 L354.3,326.3 L354.3,325.9 L354.8,325.9 L354.8,326.1 L355.3,326.1 L355.3,325.1 L355.8,325.1 L355.8,317.1 L356.3,317.1 L356.3,314.5 L356.8,314.5 L356.8,313.3 L357.3,313.3 L357.3,318.4 L357.8,318.4 L357.8,318.6 L358.3,318.6 L358.3,320.5 L358.8,320.5 L358.8,320.9 L359.3,320.9 L359.3,322.8 L359.8,322.8 L359.8,320.2 L360.3,320.2 L360.3,325.7 L360.8,325.7 L360.8,325.5 L361.3,325.5 L361.3,326.0 L361.8,326.0 L361.8,325.9 L362.3,325.9 L362.3,325.8 L362.8,325.8 L362.8,325.3 L363.3,325.3 L363.3,325.3 L363.8,325.3 L363.8,325.5 L364.3,325.5 L364.3,325.6 L364.8,325.6 L364.8,325.6 L365.3,325.6 L365.3,325.4 L365.8,325.4 L365.8,325.6 L366.3,325.6 L366.3,327.5 L366.8,327.5 L366.8,326.0 L367.3,326.0 L367.3,326.1 L367.8,326.1 L367.8,326.0 L368.3,326.0 L368.3,326.2 L368.8,326.2 L368.8,326.0 L369.3,326.0 L369.3,326.1 L369.8,326.1 L369.8,326.3 L370.3,326.3 L370.3,326.2 L370.8,326.2 L370.8,325.7 L371.3,325.7 L371.3,326.0 L371.8,326.0 L371.8,325.9 L372.3,325.9 L372.3,326.4 L372.8,326.4 L372.8,324.0 L373.3,324.0 L373.3,323.5 L373.8,323.5 L373.8,323.4 L374.3,323.4 L374.3,324.9 L374.8,324.9 L374.8,322.6 L375.3,322.6 L375.3,323.9 L375.8,323.9 L375.8,323.4 L376.3,323.4 L376.3,324.1 L376.8,324.1 L376.8,324.7 L377.3,324.7 L377.3,327.5 L377.8,327.5 L377.8,327.5 L378.3,327.5 L378.3,327.3 L378.8,327.3 L378.8,323.9 L379.3,323.9 L379.3,324.3 L379.8,324.3 L379.8,323.5 L380.3,323.5 L380.3,324.6 L380.8,324.6 L380.8,322.9 L381.3,322.9 L381.3,324.8 L381.8,324.8 L381.8,328.1 L382.3,328.1 L382.3,327.6 L382.8,327.6 L382.8,327.4 L383.3,327.4 L383.3,327.6 L383.8,327.6 L383.8,324.0 L384.3,324.0 L384.3,324.4 L384.8,324.4 L384.8,323.3 L385.3,323.3 L385.3,323.6 L385.8,323.6 L385.8,324.3 L386.3,324.3 L386.3,327.1 L386.8,327.1 L386.8,327.2 L387.3,327.2 L387.3,327.1 L387.8,327.1 L387.8,328.1 L388.3,328.1 L388.3,328.1 L388.8,328.1 L388.8,327.6 L389.3,327.6 L389.3,327.6 L389.8,327.6 L389.8,317.8 L390.3,317.8 L390.3,321.0 L390.8,321.0 L390.8,320.2 L391.3,320.2 L391.3,320.9 L391.8,320.9 L391.8,318.8 L392.3,318.8 L392.3,320.6 L392.8,320.6 L392.8,327.4 L393.3,327.4 L393.3,327.1 L393.8,327.1 L393.8,316.1 L394.3,316.1 L394.3,317.5 L394.8,317.5 L394.8,319.8 L395.3,319.8 L395.3,319.2 L395.8,319.2 L395.8,317.3 L396.3,317.3 L396.3,317.0 L396.8,317.0 L396.8,315.9 L397.3,315.9 L397.3,319.4 L397.8,319.4 L397.8,321.7 L398.3,321.7 L398.3,321.3 L398.8,321.3 L398.8,322.4 L399.3,322.4 L399.3,322.7 L399.8,322.7 L399.8,323.6 L400.3,323.6 L400.3,321.8 L400.8,321.8 L400.8,323.6 L401.3,323.6 L401.3,327.2 L401.8,327.2 L401.8,327.6 L402.3,327.6 L402.3,327.2 L402.8,327.2 L402.8,325.5 L403.3,325.5 L403.3,325.3 L403.8,325.3 L403.8,325.0 L404.3,325.0 L404.3,324.9 L404.8,324.9 L404.8,324.9 L405.3,324.9 L405.3,325.1 L405.8,325.1 L405.8,325.4 L406.3,325.4 L406.3,325.1 L406.8,325.1 L406.8,325.3 L407.3,325.3 L407.3,324.7 L407.8,324.7 L407.8,327.5 L408.3,327.5 L408.3,327.5 L408.8,327.5 L408.8,327.1 L409.3,327.1 L409.3,324.4 L409.8,324.4 L409.8,325.5 L410.3,325.5 L410.3,324.4 L410.8,324.4 L410.8,327.1 L411.3,327.1 L411.3,327.1 L411.8,327.1 L411.8,327.2 L412.3,327.2 L412.3,328.1 L412.8,328.1 L412.8,327.3 L413.3,327.3 L413.3,320.0 L413.8,320.0 L413.8,319.3 L414.3,319.3 L414.3,320.8 L414.8,320.8 L414.8,321.7 L415.3,321.7 L415.3,322.9 L415.8,322.9 L415.8,325.4 L416.3,325.4 L416.3,325.6 L416.8,325.6 L416.8,324.9 L417.3,324.9 L417.3,325.3 L417.8,325.3 L417.8,327.3 L418.3,327.3 L418.3,326.7 L418.8,326.7 L418.8,326.7 L419.3,326.7 L419.3,326.9 L419.8,326.9 L419.8,327.0 L420.3,327.0 L420.3,326.7 L420.8,326.7 L420.8,326.8 L421.3,326.8 L421.3,327.1 L421.8,327.1 L421.8,327.3 L422.3,327.3 L422.3,327.1 L422.8,327.1 L422.8,327.3 L423.3,327.3 L423.3,327.4 L423.8,327.4 L423.8,327.2 L424.3,327.2 L424.3,327.2 L424.8,327.2 L424.8,327.4 L425.3,327.4 L425.3,327.5 L425.8,327.5 L425.8,327.2 L426.3,327.2 L426.3,327.3 L426.8,327.3 L426.8,327.3 L427.3,327.3 L427.3,327.1 L427.8,327.1 L427.8,327.4 L428.3,327.4 L428.3,327.3 L428.8,327.3 L428.8,327.3 L429.3,327.3 L429.3,327.2 L429.8,327.2 L429.8,327.2 L430.3,327.2 L430.3,327.2 L430.8,327.2 L430.8,327.2 L431.3,327.2 L431.3,327.2 L431.8,327.2 L431.8,327.4 L432.3,327.4 L432.3,327.4 L432.8,327.4 L432.8,327.5 L433.3,327.5 L433.3,327.2 L433.8,327.2 L433.8,327.1 L434.3,327.1 L434.3,325.2 L434.8,325.2 L434.8,323.7 L435.3,323.7 L435.3,324.2 L435.8,324.2 L435.8,324.8 L436.3,324.8 L436.3,323.4 L436.8,323.4 L436.8,326.6 L437.3,326.6 L437.3,326.5 L437.8,326.5 L437.8,326.7 L438.3,326.7 L438.3,326.4 L438.8,326.4 L438.8,326.1 L439.3,326.1 L439.3,327.6 L439.8,327.6 L439.8,327.4 L440.3,327.4 L440.3,327.6 L440.8,327.6 L440.8,327.5 L441.3,327.5 L441.3,327.2 L441.8,327.2 L441.8,327.2 L442.3,327.2 L442.3,327.6 L442.8,327.6 L442.8,327.3 L443.3,327.3 L443.3,327.4 L443.8,327.4 L443.8,327.6 L444.3,327.6 L444.3,327.6 L444.8,327.6 L444.8,327.2 L445.3,327.2 L445.3,327.4 L445.8,327.4 L445.8,327.2 L446.3,327.2 L446.3,327.5 L446.8,327.5 L446.8,327.2 L447.3,327.2 L447.3,327.5 L447.8,327.5 L447.8,327.5 L448.3,327.5 L448.3,327.6 L448.8,327.6 L448.8,327.3 L449.3,327.3 L449.3,327.1 L449.8,327.1 L449.8,327.4 L450.3,327.4 L450.3,327.2 L450.8,327.2 L450.8,327.5 L451.3,327.5 L451.3,327.3 L451.8,327.3 L451.8,327.6 L452.3,327.6 L452.3,327.3 L452.8,327.3 L452.8,327.1 L453.3,327.1 L453.3,327.3 L453.8,327.3 L453.8,328.1 L454.3,328.1 L454.3,327.5 L454.8,327.5 L454.8,327.5 L455.3,327.5 L455.3,327.4 L455.8,327.4 L455.8,327.5 L456.3,327.5 L456.3,327.6 L456.8,327.6 L456.8,327.3 L457.3,327.3 L457.3,327.6 L457.8,327.6 L457.8,327.3 L458.3,327.3 L458.3,327.2 L458.8,327.2 L458.8,327.5 L459.3,327.5 L459.3,327.5 L459.8,327.5 L459.8,328.1 L460.3,328.1 L460.3,328.1 L460.8,328.1 L460.8,327.6 L461.3,327.6 L461.3,327.3 L461.8,327.3 L461.8,327.3 L462.3,327.3 L462.3,327.5 L462.8,327.5 L462.8,327.2 L463.3,327.2 L463.3,327.6 L463.8,327.6 L463.8,328.1 L464.3,328.1 L464.3,327.3 L464.8,327.3 L464.8,326.4 L465.3,326.4 L465.3,326.7 L465.8,326.7 L465.8,327.6 L466.3,327.6 L466.3,328.1 L466.8,328.1 L466.8,327.2 L467.3,327.2 L467.3,327.6 L467.8,327.6 L467.8,328.1 L468.3,328.1 L468.3,327.6 L468.8,327.6 L468.8,327.5 L469.3,327.5 L469.3,328.1 L469.8,328.1 L469.8,326.6 L470.3,326.6 L470.3,325.1 L470.8,325.1 L470.8,325.6 L471.3,325.6 L471.3,324.8 L471.8,324.8 L471.8,326.2 L472.3,326.2 L472.3,327.3 L472.8,327.3 L472.8,327.4 L473.3,327.4 L473.3,327.3 L473.8,327.3 L473.8,327.3 L474.3,327.3 L474.3,327.4 L474.8,327.4 L474.8,327.3 L475.3,327.3 L475.3,327.6 L475.8,327.6 L475.8,327.6 L476.3,327.6 L476.3,327.4 L476.8,327.4 L476.8,327.5 L477.3,327.5 L477.3,323.3 L477.8,323.3 L477.8,322.2 L478.3,322.2 L478.3,321.7 L478.8,321.7 L478.8,321.3 L479.3,321.3 L479.3,322.3 L479.8,322.3 L479.8,325.7 L480.3,325.7 L480.3,328.1 L480.8,328.1 L480.8,327.5 L481.3,327.5 L481.3,327.2 L481.8,327.2 L481.8,327.2 L482.3,327.2 L482.3,327.2 L482.8,327.2 L482.8,327.4 L483.3,327.4 L483.3,326.6 L483.8,326.6 L483.8,327.0 L484.3,327.0 L484.3,327.1 L484.8,327.1 L484.8,327.3 L485.3,327.3 L485.3,327.4 L485.8,327.4 L485.8,327.3 L486.3,327.3 L486.3,327.1 L486.8,327.1 L486.8,327.3 L487.3,327.3 L487.3,328.1 L487.8,328.1 L487.8,327.6 L488.3,327.6 L488.3,327.6 L488.8,327.6 L488.8,328.1 L489.3,328.1 L489.3,328.1 L489.8,328.1 L489.8,328.1 L490.3,328.1 L490.3,327.5 L490.8,327.5 L490.8,327.1 L491.3,327.1 L491.3,327.3 L491.8,327.3 L491.8,327.2 L492.3,327.2 L492.3,327.2 L492.8,327.2 L492.8,327.3 L493.3,327.3 L493.3,327.6 L493.8,327.6 L493.8,327.1 L494.3,327.1 L494.3,327.2 L494.8,327.2 L494.8,327.3 L495.3,327.3 L495.3,327.2 L495.8,327.2 L495.8,328.1 L496.3,328.1 L496.3,327.4 L496.8,327.4 L496.8,327.2 L497.3,327.2 L497.3,327.3 L497.8,327.3 L497.8,327.4 L498.3,327.4 L498.3,328.1 L498.8,328.1 L498.8,328.1 Z" fill="#4f9a96"/>
<path d="M235.8,349.6 L235.8,346.3 L236.3,346.3 L236.3,345.0 L236.8,345.0 L236.8,345.9 L237.3,345.9 L237.3,345.4 L237.8,345.4 L237.8,345.7 L238.3,345.7 L238.3,347.1 L238.8,347.1 L238.8,347.7 L239.3,347.7 L239.3,348.0 L239.8,348.0 L239.8,347.6 L240.3,347.6 L240.3,347.5 L240.8,347.5 L240.8,347.7 L241.3,347.7 L241.3,347.1 L241.8,347.1 L241.8,347.2 L242.3,347.2 L242.3,347.2 L242.8,347.2 L242.8,347.7 L243.3,347.7 L243.3,347.8 L243.8,347.8 L243.8,347.6 L244.3,347.6 L244.3,347.0 L244.8,347.0 L244.8,346.5 L245.3,346.5 L245.3,346.7 L245.8,346.7 L245.8,349.0 L246.3,349.0 L246.3,344.8 L246.8,344.8 L246.8,339.2 L247.3,339.2 L247.3,340.0 L247.8,340.0 L247.8,340.2 L248.3,340.2 L248.3,341.9 L248.8,341.9 L248.8,347.9 L249.3,347.9 L249.3,347.2 L249.8,347.2 L249.8,346.6 L250.3,346.6 L250.3,344.5 L250.8,344.5 L250.8,344.6 L251.3,344.6 L251.3,344.5 L251.8,344.5 L251.8,346.1 L252.3,346.1 L252.3,344.9 L252.8,344.9 L252.8,344.4 L253.3,344.4 L253.3,348.3 L253.8,348.3 L253.8,348.2 L254.3,348.2 L254.3,348.0 L254.8,348.0 L254.8,347.6 L255.3,347.6 L255.3,348.1 L255.8,348.1 L255.8,348.7 L256.3,348.7 L256.3,348.9 L256.8,348.9 L256.8,349.6 L257.3,349.6 L257.3,348.7 L257.8,348.7 L257.8,348.6 L258.3,348.6 L258.3,348.6 L258.8,348.6 L258.8,348.8 L259.3,348.8 L259.3,348.7 L259.8,348.7 L259.8,349.1 L260.3,349.1 L260.3,348.6 L260.8,348.6 L260.8,348.8 L261.3,348.8 L261.3,348.8 L261.8,348.8 L261.8,348.5 L262.3,348.5 L262.3,348.8 L262.8,348.8 L262.8,349.1 L263.3,349.1 L263.3,349.1 L263.8,349.1 L263.8,349.6 L264.3,349.6 L264.3,349.6 L264.8,349.6 L264.8,349.1 L265.3,349.1 L265.3,348.8 L265.8,348.8 L265.8,348.5 L266.3,348.5 L266.3,349.0 L266.8,349.0 L266.8,349.0 L267.3,349.0 L267.3,348.7 L267.8,348.7 L267.8,348.7 L268.3,348.7 L268.3,348.9 L268.8,348.9 L268.8,349.1 L269.3,349.1 L269.3,349.6 L269.8,349.6 L269.8,349.1 L270.3,349.1 L270.3,349.0 L270.8,349.0 L270.8,349.6 L271.3,349.6 L271.3,349.0 L271.8,349.0 L271.8,348.8 L272.3,348.8 L272.3,348.9 L272.8,348.9 L272.8,349.0 L273.3,349.0 L273.3,348.5 L273.8,348.5 L273.8,348.9 L274.3,348.9 L274.3,348.8 L274.8,348.8 L274.8,349.6 L275.3,349.6 L275.3,348.8 L275.8,348.8 L275.8,349.1 L276.3,349.1 L276.3,348.9 L276.8,348.9 L276.8,348.6 L277.3,348.6 L277.3,349.0 L277.8,349.0 L277.8,348.9 L278.3,348.9 L278.3,349.6 L278.8,349.6 L278.8,349.1 L279.3,349.1 L279.3,348.6 L279.8,348.6 L279.8,349.1 L280.3,349.1 L280.3,348.9 L280.8,348.9 L280.8,349.0 L281.3,349.0 L281.3,349.1 L281.8,349.1 L281.8,348.9 L282.3,348.9 L282.3,349.1 L282.8,349.1 L282.8,349.0 L283.3,349.0 L283.3,348.9 L283.8,348.9 L283.8,348.7 L284.3,348.7 L284.3,349.1 L284.8,349.1 L284.8,349.1 L285.3,349.1 L285.3,348.7 L285.8,348.7 L285.8,348.7 L286.3,348.7 L286.3,349.6 L286.8,349.6 L286.8,348.6 L287.3,348.6 L287.3,348.8 L287.8,348.8 L287.8,348.9 L288.3,348.9 L288.3,349.0 L288.8,349.0 L288.8,348.8 L289.3,348.8 L289.3,348.6 L289.8,348.6 L289.8,348.6 L290.3,348.6 L290.3,349.0 L290.8,349.0 L290.8,349.0 L291.3,349.0 L291.3,348.7 L291.8,348.7 L291.8,348.5 L292.3,348.5 L292.3,348.1 L292.8,348.1 L292.8,348.0 L293.3,348.0 L293.3,348.2 L293.8,348.2 L293.8,347.8 L294.3,347.8 L294.3,349.0 L294.8,349.0 L294.8,348.7 L295.3,348.7 L295.3,348.8 L295.8,348.8 L295.8,348.8 L296.3,348.8 L296.3,348.7 L296.8,348.7 L296.8,349.6 L297.3,349.6 L297.3,348.7 L297.8,348.7 L297.8,348.6 L298.3,348.6 L298.3,348.7 L298.8,348.7 L298.8,348.5 L299.3,348.5 L299.3,348.8 L299.8,348.8 L299.8,348.9 L300.3,348.9 L300.3,349.6 L300.8,349.6 L300.8,348.6 L301.3,348.6 L301.3,348.8 L301.8,348.8 L301.8,348.9 L302.3,348.9 L302.3,348.5 L302.8,348.5 L302.8,348.8 L303.3,348.8 L303.3,348.9 L303.8,348.9 L303.8,348.7 L304.3,348.7 L304.3,348.6 L304.8,348.6 L304.8,348.7 L305.3,348.7 L305.3,348.7 L305.8,348.7 L305.8,348.7 L306.3,348.7 L306.3,349.6 L306.8,349.6 L306.8,348.7 L307.3,348.7 L307.3,348.7 L307.8,348.7 L307.8,349.1 L308.3,349.1 L308.3,348.7 L308.8,348.7 L308.8,348.6 L309.3,348.6 L309.3,349.1 L309.8,349.1 L309.8,348.7 L310.3,348.7 L310.3,348.7 L310.8,348.7 L310.8,349.0 L311.3,349.0 L311.3,349.1 L311.8,349.1 L311.8,348.9 L312.3,348.9 L312.3,348.8 L312.8,348.8 L312.8,349.0 L313.3,349.0 L313.3,349.1 L313.8,349.1 L313.8,349.6 L314.3,349.6 L314.3,348.6 L314.8,348.6 L314.8,348.7 L315.3,348.7 L315.3,348.7 L315.8,348.7 L315.8,349.0 L316.3,349.0 L316.3,349.1 L316.8,349.1 L316.8,349.6 L317.3,349.6 L317.3,349.0 L317.8,349.0 L317.8,348.5 L318.3,348.5 L318.3,347.5 L318.8,347.5 L318.8,347.9 L319.3,347.9 L319.3,348.2 L319.8,348.2 L319.8,348.5 L320.3,348.5 L320.3,348.9 L320.8,348.9 L320.8,348.6 L321.3,348.6 L321.3,348.7 L321.8,348.7 L321.8,348.8 L322.3,348.8 L322.3,349.1 L322.8,349.1 L322.8,349.0 L323.3,349.0 L323.3,348.6 L323.8,348.6 L323.8,348.9 L324.3,348.9 L324.3,349.1 L324.8,349.1 L324.8,348.9 L325.3,348.9 L325.3,348.6 L325.8,348.6 L325.8,348.7 L326.3,348.7 L326.3,349.0 L326.8,349.0 L326.8,349.0 L327.3,349.0 L327.3,348.5 L327.8,348.5 L327.8,348.6 L328.3,348.6 L328.3,348.9 L328.8,348.9 L328.8,349.1 L329.3,349.1 L329.3,349.0 L329.8,349.0 L329.8,349.0 L330.3,349.0 L330.3,348.6 L330.8,348.6 L330.8,348.7 L331.3,348.7 L331.3,348.9 L331.8,348.9 L331.8,349.6 L332.3,349.6 L332.3,349.0 L332.8,349.0 L332.8,348.9 L333.3,348.9 L333.3,348.6 L333.8,348.6 L333.8,348.6 L334.3,348.6 L334.3,348.9 L334.8,348.9 L334.8,348.9 L335.3,348.9 L335.3,348.5 L335.8,348.5 L335.8,348.7 L336.3,348.7 L336.3,348.7 L336.8,348.7 L336.8,348.6 L337.3,348.6 L337.3,348.7 L337.8,348.7 L337.8,349.0 L338.3,349.0 L338.3,348.7 L338.8,348.7 L338.8,348.9 L339.3,348.9 L339.3,348.5 L339.8,348.5 L339.8,348.8 L340.3,348.8 L340.3,349.0 L340.8,349.0 L340.8,349.1 L341.3,349.1 L341.3,349.6 L341.8,349.6 L341.8,348.9 L342.3,348.9 L342.3,348.6 L342.8,348.6 L342.8,348.9 L343.3,348.9 L343.3,349.0 L343.8,349.0 L343.8,348.9 L344.3,348.9 L344.3,348.7 L344.8,348.7 L344.8,348.9 L345.3,348.9 L345.3,349.1 L345.8,349.1 L345.8,349.0 L346.3,349.0 L346.3,348.9 L346.8,348.9 L346.8,348.9 L347.3,348.9 L347.3,349.0 L347.8,349.0 L347.8,348.9 L348.3,348.9 L348.3,348.7 L348.8,348.7 L348.8,349.6 L349.3,349.6 L349.3,348.6 L349.8,348.6 L349.8,348.6 L350.3,348.6 L350.3,348.8 L350.8,348.8 L350.8,348.9 L351.3,348.9 L351.3,348.8 L351.8,348.8 L351.8,347.8 L352.3,347.8 L352.3,347.5 L352.8,347.5 L352.8,347.8 L353.3,347.8 L353.3,347.5 L353.8,347.5 L353.8,347.8 L354.3,347.8 L354.3,348.1 L354.8,348.1 L354.8,342.5 L355.3,342.5 L355.3,344.1 L355.8,344.1 L355.8,344.6 L356.3,344.6 L356.3,344.5 L356.8,344.5 L356.8,342.4 L357.3,342.4 L357.3,342.6 L357.8,342.6 L357.8,343.0 L358.3,343.0 L358.3,341.8 L358.8,341.8 L358.8,341.9 L359.3,341.9 L359.3,344.5 L359.8,344.5 L359.8,344.3 L360.3,344.3 L360.3,344.3 L360.8,344.3 L360.8,346.8 L361.3,346.8 L361.3,348.7 L361.8,348.7 L361.8,347.5 L362.3,347.5 L362.3,347.0 L362.8,347.0 L362.8,347.3 L363.3,347.3 L363.3,347.2 L363.8,347.2 L363.8,347.1 L364.3,347.1 L364.3,346.8 L364.8,346.8 L364.8,346.9 L365.3,346.9 L365.3,347.6 L365.8,347.6 L365.8,347.4 L366.3,347.4 L366.3,347.0 L366.8,347.0 L366.8,347.4 L367.3,347.4 L367.3,347.1 L367.8,347.1 L367.8,347.3 L368.3,347.3 L368.3,347.7 L368.8,347.7 L368.8,347.3 L369.3,347.3 L369.3,346.9 L369.8,346.9 L369.8,347.6 L370.3,347.6 L370.3,347.2 L370.8,347.2 L370.8,347.3 L371.3,347.3 L371.3,347.2 L371.8,347.2 L371.8,347.7 L372.3,347.7 L372.3,347.0 L372.8,347.0 L372.8,346.8 L373.3,346.8 L373.3,344.3 L373.8,344.3 L373.8,342.8 L374.3,342.8 L374.3,343.9 L374.8,343.9 L374.8,344.3 L375.3,344.3 L375.3,343.6 L375.8,343.6 L375.8,344.3 L376.3,344.3 L376.3,344.2 L376.8,344.2 L376.8,342.5 L377.3,342.5 L377.3,348.9 L377.8,348.9 L377.8,348.6 L378.3,348.6 L378.3,349.1 L378.8,349.1 L378.8,349.0 L379.3,349.0 L379.3,343.1 L379.8,343.1 L379.8,342.5 L380.3,342.5 L380.3,343.8 L380.8,343.8 L380.8,343.4 L381.3,343.4 L381.3,345.9 L381.8,345.9 L381.8,348.6 L382.3,348.6 L382.3,348.8 L382.8,348.8 L382.8,348.6 L383.3,348.6 L383.3,349.0 L383.8,349.0 L383.8,348.5 L384.3,348.5 L384.3,346.9 L384.8,346.9 L384.8,342.6 L385.3,342.6 L385.3,344.0 L385.8,344.0 L385.8,342.3 L386.3,342.3 L386.3,348.9 L386.8,348.9 L386.8,348.8 L387.3,348.8 L387.3,349.0 L387.8,349.0 L387.8,348.8 L388.3,348.8 L388.3,349.1 L388.8,349.1 L388.8,348.7 L389.3,348.7 L389.3,349.6 L389.8,349.6 L389.8,348.9 L390.3,348.9 L390.3,340.3 L390.8,340.3 L390.8,340.0 L391.3,340.0 L391.3,341.5 L391.8,341.5 L391.8,340.4 L392.3,340.4 L392.3,341.1 L392.8,341.1 L392.8,339.8 L393.3,339.8 L393.3,342.7 L393.8,342.7 L393.8,349.6 L394.3,349.6 L394.3,348.9 L394.8,348.9 L394.8,348.9 L395.3,348.9 L395.3,336.8 L395.8,336.8 L395.8,338.3 L396.3,338.3 L396.3,335.2 L396.8,335.2 L396.8,343.1 L397.3,343.1 L397.3,340.9 L397.8,340.9 L397.8,343.0 L398.3,343.0 L398.3,344.8 L398.8,344.8 L398.8,345.6 L399.3,345.6 L399.3,343.0 L399.8,343.0 L399.8,344.7 L400.3,344.7 L400.3,342.5 L400.8,342.5 L400.8,344.5 L401.3,344.5 L401.3,344.2 L401.8,344.2 L401.8,347.6 L402.3,347.6 L402.3,347.4 L402.8,347.4 L402.8,347.5 L403.3,347.5 L403.3,347.2 L403.8,347.2 L403.8,347.6 L404.3,347.6 L404.3,347.5 L404.8,347.5 L404.8,347.6 L405.3,347.6 L405.3,347.4 L405.8,347.4 L405.8,345.0 L406.3,345.0 L406.3,344.2 L406.8,344.2 L406.8,344.5 L407.3,344.5 L407.3,344.7 L407.8,344.7 L407.8,349.0 L408.3,349.0 L408.3,348.5 L408.8,348.5 L408.8,348.6 L409.3,348.6 L409.3,344.6 L409.8,344.6 L409.8,345.1 L410.3,345.1 L410.3,345.7 L410.8,345.7 L410.8,348.8 L411.3,348.8 L411.3,348.8 L411.8,348.8 L411.8,348.9 L412.3,348.9 L412.3,348.7 L412.8,348.7 L412.8,342.5 L413.3,342.5 L413.3,342.3 L413.8,342.3 L413.8,343.2 L414.3,343.2 L414.3,342.3 L414.8,342.3 L414.8,342.8 L415.3,342.8 L415.3,342.7 L415.8,342.7 L415.8,344.8 L416.3,344.8 L416.3,348.9 L416.8,348.9 L416.8,343.3 L417.3,343.3 L417.3,343.3 L417.8,343.3 L417.8,341.9 L418.3,341.9 L418.3,343.3 L418.8,343.3 L418.8,347.5 L419.3,347.5 L419.3,348.5 L419.8,348.5 L419.8,348.8 L420.3,348.8 L420.3,347.3 L420.8,347.3 L420.8,343.2 L421.3,343.2 L421.3,343.6 L421.8,343.6 L421.8,344.7 L422.3,344.7 L422.3,343.5 L422.8,343.5 L422.8,343.9 L423.3,343.9 L423.3,346.6 L423.8,346.6 L423.8,347.0 L424.3,347.0 L424.3,347.5 L424.8,347.5 L424.8,347.1 L425.3,347.1 L425.3,347.4 L425.8,347.4 L425.8,347.4 L426.3,347.4 L426.3,348.7 L426.8,348.7 L426.8,348.7 L427.3,348.7 L427.3,348.5 L427.8,348.5 L427.8,348.8 L428.3,348.8 L428.3,348.7 L428.8,348.7 L428.8,348.5 L429.3,348.5 L429.3,348.6 L429.8,348.6 L429.8,348.7 L430.3,348.7 L430.3,348.8 L430.8,348.8 L430.8,348.7 L431.3,348.7 L431.3,348.6 L431.8,348.6 L431.8,348.6 L432.3,348.6 L432.3,348.4 L432.8,348.4 L432.8,348.5 L433.3,348.5 L433.3,348.5 L433.8,348.5 L433.8,347.3 L434.3,347.3 L434.3,342.7 L434.8,342.7 L434.8,342.5 L435.3,342.5 L435.3,344.5 L435.8,344.5 L435.8,344.3 L436.3,344.3 L436.3,343.9 L436.8,343.9 L436.8,349.0 L437.3,349.0 L437.3,348.7 L437.8,348.7 L437.8,348.6 L438.3,348.6 L438.3,346.8 L438.8,346.8 L438.8,346.8 L439.3,346.8 L439.3,346.3 L439.8,346.3 L439.8,345.7 L440.3,345.7 L440.3,347.0 L440.8,347.0 L440.8,349.0 L441.3,349.0 L441.3,349.1 L441.8,349.1 L441.8,349.6 L442.3,349.6 L442.3,348.7 L442.8,348.7 L442.8,348.7 L443.3,348.7 L443.3,348.7 L443.8,348.7 L443.8,348.7 L444.3,348.7 L444.3,349.0 L444.8,349.0 L444.8,349.6 L445.3,349.6 L445.3,348.5 L445.8,348.5 L445.8,348.6 L446.3,348.6 L446.3,348.9 L446.8,348.9 L446.8,349.0 L447.3,349.0 L447.3,348.8 L447.8,348.8 L447.8,348.8 L448.3,348.8 L448.3,349.6 L448.8,349.6 L448.8,348.8 L449.3,348.8 L449.3,349.0 L449.8,349.0 L449.8,349.1 L450.3,349.1 L450.3,348.9 L450.8,348.9 L450.8,348.7 L451.3,348.7 L451.3,348.9 L451.8,348.9 L451.8,348.7 L452.3,348.7 L452.3,349.0 L452.8,349.0 L452.8,348.7 L453.3,348.7 L453.3,349.6 L453.8,349.6 L453.8,348.9 L454.3,348.9 L454.3,348.7 L454.8,348.7 L454.8,349.0 L455.3,349.0 L455.3,348.6 L455.8,348.6 L455.8,349.6 L456.3,349.6 L456.3,348.7 L456.8,348.7 L456.8,348.7 L457.3,348.7 L457.3,348.7 L457.8,348.7 L457.8,348.9 L458.3,348.9 L458.3,349.0 L458.8,349.0 L458.8,348.9 L459.3,348.9 L459.3,349.0 L459.8,349.0 L459.8,348.9 L460.3,348.9 L460.3,348.7 L460.8,348.7 L460.8,348.8 L461.3,348.8 L461.3,349.0 L461.8,349.0 L461.8,348.5 L462.3,348.5 L462.3,348.6 L462.8,348.6 L462.8,349.1 L463.3,349.1 L463.3,349.0 L463.8,349.0 L463.8,349.1 L464.3,349.1 L464.3,348.7 L464.8,348.7 L464.8,349.0 L465.3,349.0 L465.3,349.6 L465.8,349.6 L465.8,348.9 L466.3,348.9 L466.3,349.0 L466.8,349.0 L466.8,349.0 L467.3,349.0 L467.3,349.0 L467.8,349.0 L467.8,348.6 L468.3,348.6 L468.3,348.9 L468.8,348.9 L468.8,348.6 L469.3,348.6 L469.3,348.5 L469.8,348.5 L469.8,348.6 L470.3,348.6 L470.3,348.2 L470.8,348.2 L470.8,348.5 L471.3,348.5 L471.3,348.2 L471.8,348.2 L471.8,348.8 L472.3,348.8 L472.3,348.8 L472.8,348.8 L472.8,349.0 L473.3,349.0 L473.3,348.6 L473.8,348.6 L473.8,348.5 L474.3,348.5 L474.3,348.5 L474.8,348.5 L474.8,348.8 L475.3,348.8 L475.3,349.0 L475.8,349.0 L475.8,349.6 L476.3,349.6 L476.3,349.1 L476.8,349.1 L476.8,348.7 L477.3,348.7 L477.3,349.0 L477.8,349.0 L477.8,349.1 L478.3,349.1 L478.3,348.2 L478.8,348.2 L478.8,348.1 L479.3,348.1 L479.3,347.9 L479.8,347.9 L479.8,348.2 L480.3,348.2 L480.3,348.3 L480.8,348.3 L480.8,348.1 L481.3,348.1 L481.3,348.5 L481.8,348.5 L481.8,348.3 L482.3,348.3 L482.3,348.1 L482.8,348.1 L482.8,348.5 L483.3,348.5 L483.3,348.2 L483.8,348.2 L483.8,348.5 L484.3,348.5 L484.3,348.4 L484.8,348.4 L484.8,348.4 L485.3,348.4 L485.3,348.1 L485.8,348.1 L485.8,348.2 L486.3,348.2 L486.3,348.5 L486.8,348.5 L486.8,349.1 L487.3,349.1 L487.3,346.7 L487.8,346.7 L487.8,344.7 L488.3,344.7 L488.3,345.3 L488.8,345.3 L488.8,346.0 L489.3,346.0 L489.3,345.0 L489.8,345.0 L489.8,348.1 L490.3,348.1 L490.3,349.1 L490.8,349.1 L490.8,348.5 L491.3,348.5 L491.3,349.1 L491.8,349.1 L491.8,348.7 L492.3,348.7 L492.3,348.9 L492.8,348.9 L492.8,348.6 L493.3,348.6 L493.3,348.7 L493.8,348.7 L493.8,349.1 L494.3,349.1 L494.3,349.0 L494.8,349.0 L494.8,349.0 L495.3,349.0 L495.3,348.7 L495.8,348.7 L495.8,348.6 L496.3,348.6 L496.3,349.6 L496.8,349.6 L496.8,348.8 L497.3,348.8 L497.3,349.0 L497.8,349.0 L497.8,346.0 L498.3,346.0 L498.3,345.9 L498.8,345.9 L498.8,349.6 Z" fill="#1c1cc4"/>
<path d="M235.8,378.3 L235.8,377.7 L236.3,377.7 L236.3,377.6 L236.8,377.6 L236.8,377.8 L237.3,377.8 L237.3,378.3 L237.8,378.3 L237.8,377.8 L238.3,377.8 L238.3,377.5 L238.8,377.5 L238.8,377.6 L239.3,377.6 L239.3,377.6 L239.8,377.6 L239.8,377.6 L240.3,377.6 L240.3,377.7 L240.8,377.7 L240.8,377.6 L241.3,377.6 L241.3,378.3 L241.8,378.3 L241.8,377.6 L242.3,377.6 L242.3,377.8 L242.8,377.8 L242.8,377.7 L243.3,377.7 L243.3,377.5 L243.8,377.5 L243.8,377.5 L244.3,377.5 L244.3,377.6 L244.8,377.6 L244.8,377.5 L245.3,377.5 L245.3,377.8 L245.8,377.8 L245.8,377.8 L246.3,377.8 L246.3,377.7 L246.8,377.7 L246.8,377.7 L247.3,377.7 L247.3,375.4 L247.8,375.4 L247.8,373.1 L248.3,373.1 L248.3,372.7 L248.8,372.7 L248.8,372.9 L249.3,372.9 L249.3,373.2 L249.8,373.2 L249.8,374.4 L250.3,374.4 L250.3,377.8 L250.8,377.8 L250.8,377.5 L251.3,377.5 L251.3,378.3 L251.8,378.3 L251.8,377.7 L252.3,377.7 L252.3,377.7 L252.8,377.7 L252.8,377.5 L253.3,377.5 L253.3,378.3 L253.8,378.3 L253.8,377.8 L254.3,377.8 L254.3,377.7 L254.8,377.7 L254.8,377.5 L255.3,377.5 L255.3,377.5 L255.8,377.5 L255.8,377.8 L256.3,377.8 L256.3,377.8 L256.8,377.8 L256.8,377.7 L257.3,377.7 L257.3,377.8 L257.8,377.8 L257.8,378.3 L258.3,378.3 L258.3,377.7 L258.8,377.7 L258.8,377.5 L259.3,377.5 L259.3,377.7 L259.8,377.7 L259.8,377.6 L260.3,377.6 L260.3,377.7 L260.8,377.7 L260.8,377.5 L261.3,377.5 L261.3,377.7 L261.8,377.7 L261.8,377.8 L262.3,377.8 L262.3,377.5 L262.8,377.5 L262.8,377.7 L263.3,377.7 L263.3,378.3 L263.8,378.3 L263.8,377.6 L264.3,377.6 L264.3,378.3 L264.8,378.3 L264.8,377.6 L265.3,377.6 L265.3,378.3 L265.8,378.3 L265.8,377.7 L266.3,377.7 L266.3,377.7 L266.8,377.7 L266.8,377.6 L267.3,377.6 L267.3,378.3 L267.8,378.3 L267.8,378.3 L268.3,378.3 L268.3,377.5 L268.8,377.5 L268.8,377.7 L269.3,377.7 L269.3,377.7 L269.8,377.7 L269.8,377.7 L270.3,377.7 L270.3,377.6 L270.8,377.6 L270.8,377.7 L271.3,377.7 L271.3,377.8 L271.8,377.8 L271.8,377.6 L272.3,377.6 L272.3,377.8 L272.8,377.8 L272.8,377.8 L273.3,377.8 L273.3,377.7 L273.8,377.7 L273.8,377.8 L274.3,377.8 L274.3,377.7 L274.8,377.7 L274.8,377.7 L275.3,377.7 L275.3,377.8 L275.8,377.8 L275.8,377.6 L276.3,377.6 L276.3,377.7 L276.8,377.7 L276.8,377.8 L277.3,377.8 L277.3,377.8 L277.8,377.8 L277.8,377.6 L278.3,377.6 L278.3,377.8 L278.8,377.8 L278.8,377.6 L279.3,377.6 L279.3,377.7 L279.8,377.7 L279.8,377.7 L280.3,377.7 L280.3,377.8 L280.8,377.8 L280.8,377.7 L281.3,377.7 L281.3,377.7 L281.8,377.7 L281.8,377.8 L282.3,377.8 L282.3,378.3 L282.8,378.3 L282.8,377.5 L283.3,377.5 L283.3,377.7 L283.8,377.7 L283.8,377.5 L284.3,377.5 L284.3,377.6 L284.8,377.6 L284.8,377.6 L285.3,377.6 L285.3,377.7 L285.8,377.7 L285.8,377.8 L286.3,377.8 L286.3,378.3 L286.8,378.3 L286.8,377.7 L287.3,377.7 L287.3,377.8 L287.8,377.8 L287.8,377.6 L288.3,377.6 L288.3,377.5 L288.8,377.5 L288.8,377.6 L289.3,377.6 L289.3,378.3 L289.8,378.3 L289.8,377.8 L290.3,377.8 L290.3,377.6 L290.8,377.6 L290.8,377.7 L291.3,377.7 L291.3,377.6 L291.8,377.6 L291.8,377.8 L292.3,377.8 L292.3,377.7 L292.8,377.7 L292.8,377.8 L293.3,377.8 L293.3,377.8 L293.8,377.8 L293.8,377.6 L294.3,377.6 L294.3,377.8 L294.8,377.8 L294.8,377.8 L295.3,377.8 L295.3,377.7 L295.8,377.7 L295.8,377.6 L296.3,377.6 L296.3,377.9 L296.8,377.9 L296.8,377.8 L297.3,377.8 L297.3,377.8 L297.8,377.8 L297.8,377.7 L298.3,377.7 L298.3,377.6 L298.8,377.6 L298.8,377.7 L299.3,377.7 L299.3,377.6 L299.8,377.6 L299.8,377.9 L300.3,377.9 L300.3,377.6 L300.8,377.6 L300.8,377.7 L301.3,377.7 L301.3,377.6 L301.8,377.6 L301.8,377.7 L302.3,377.7 L302.3,377.6 L302.8,377.6 L302.8,377.6 L303.3,377.6 L303.3,377.8 L303.8,377.8 L303.8,377.6 L304.3,377.6 L304.3,378.3 L304.8,378.3 L304.8,377.7 L305.3,377.7 L305.3,377.5 L305.8,377.5 L305.8,377.5 L306.3,377.5 L306.3,377.8 L306.8,377.8 L306.8,377.8 L307.3,377.8 L307.3,377.6 L307.8,377.6 L307.8,377.6 L308.3,377.6 L308.3,377.6 L308.8,377.6 L308.8,377.8 L309.3,377.8 L309.3,377.8 L309.8,377.8 L309.8,377.6 L310.3,377.6 L310.3,378.3 L310.8,378.3 L310.8,378.3 L311.3,378.3 L311.3,378.3 L311.8,378.3 L311.8,377.8 L312.3,377.8 L312.3,378.3 L312.8,378.3 L312.8,377.8 L313.3,377.8 L313.3,377.6 L313.8,377.6 L313.8,377.5 L314.3,377.5 L314.3,377.6 L314.8,377.6 L314.8,378.3 L315.3,378.3 L315.3,377.7 L315.8,377.7 L315.8,377.8 L316.3,377.8 L316.3,377.5 L316.8,377.5 L316.8,378.3 L317.3,378.3 L317.3,377.7 L317.8,377.7 L317.8,377.8 L318.3,377.8 L318.3,377.8 L318.8,377.8 L318.8,377.6 L319.3,377.6 L319.3,377.7 L319.8,377.7 L319.8,377.7 L320.3,377.7 L320.3,377.8 L320.8,377.8 L320.8,377.5 L321.3,377.5 L321.3,377.6 L321.8,377.6 L321.8,377.6 L322.3,377.6 L322.3,377.6 L322.8,377.6 L322.8,377.7 L323.3,377.7 L323.3,377.5 L323.8,377.5 L323.8,377.8 L324.3,377.8 L324.3,377.5 L324.8,377.5 L324.8,377.7 L325.3,377.7 L325.3,377.8 L325.8,377.8 L325.8,377.8 L326.3,377.8 L326.3,377.7 L326.8,377.7 L326.8,377.6 L327.3,377.6 L327.3,377.7 L327.8,377.7 L327.8,377.7 L328.3,377.7 L328.3,377.6 L328.8,377.6 L328.8,377.8 L329.3,377.8 L329.3,378.3 L329.8,378.3 L329.8,377.7 L330.3,377.7 L330.3,377.7 L330.8,377.7 L330.8,377.6 L331.3,377.6 L331.3,377.5 L331.8,377.5 L331.8,377.6 L332.3,377.6 L332.3,377.6 L332.8,377.6 L332.8,377.7 L333.3,377.7 L333.3,377.6 L333.8,377.6 L333.8,377.7 L334.3,377.7 L334.3,377.5 L334.8,377.5 L334.8,377.8 L335.3,377.8 L335.3,377.6 L335.8,377.6 L335.8,377.5 L336.3,377.5 L336.3,377.8 L336.8,377.8 L336.8,377.8 L337.3,377.8 L337.3,377.6 L337.8,377.6 L337.8,377.5 L338.3,377.5 L338.3,377.5 L338.8,377.5 L338.8,377.7 L339.3,377.7 L339.3,377.8 L339.8,377.8 L339.8,378.3 L340.3,378.3 L340.3,377.7 L340.8,377.7 L340.8,377.6 L341.3,377.6 L341.3,377.8 L341.8,377.8 L341.8,377.7 L342.3,377.7 L342.3,377.8 L342.8,377.8 L342.8,377.5 L343.3,377.5 L343.3,377.7 L343.8,377.7 L343.8,378.3 L344.3,378.3 L344.3,377.6 L344.8,377.6 L344.8,378.3 L345.3,378.3 L345.3,377.5 L345.8,377.5 L345.8,378.3 L346.3,378.3 L346.3,377.7 L346.8,377.7 L346.8,377.6 L347.3,377.6 L347.3,377.6 L347.8,377.6 L347.8,377.6 L348.3,377.6 L348.3,377.6 L348.8,377.6 L348.8,377.6 L349.3,377.6 L349.3,377.8 L349.8,377.8 L349.8,377.7 L350.3,377.7 L350.3,377.6 L350.8,377.6 L350.8,377.8 L351.3,377.8 L351.3,377.6 L351.8,377.6 L351.8,377.4 L352.3,377.4 L352.3,376.6 L352.8,376.6 L352.8,376.5 L353.3,376.5 L353.3,376.5 L353.8,376.5 L353.8,376.7 L354.3,376.7 L354.3,376.5 L354.8,376.5 L354.8,376.6 L355.3,376.6 L355.3,376.7 L355.8,376.7 L355.8,376.4 L356.3,376.4 L356.3,371.7 L356.8,371.7 L356.8,372.4 L357.3,372.4 L357.3,371.7 L357.8,371.7 L357.8,372.2 L358.3,372.2 L358.3,376.4 L358.8,376.4 L358.8,376.5 L359.3,376.5 L359.3,377.7 L359.8,377.7 L359.8,377.8 L360.3,377.8 L360.3,377.8 L360.8,377.8 L360.8,377.5 L361.3,377.5 L361.3,377.7 L361.8,377.7 L361.8,377.6 L362.3,377.6 L362.3,377.5 L362.8,377.5 L362.8,377.7 L363.3,377.7 L363.3,377.7 L363.8,377.7 L363.8,377.6 L364.3,377.6 L364.3,378.3 L364.8,378.3 L364.8,377.6 L365.3,377.6 L365.3,377.7 L365.8,377.7 L365.8,377.8 L366.3,377.8 L366.3,377.8 L366.8,377.8 L366.8,377.6 L367.3,377.6 L367.3,377.7 L367.8,377.7 L367.8,377.5 L368.3,377.5 L368.3,377.6 L368.8,377.6 L368.8,377.8 L369.3,377.8 L369.3,377.8 L369.8,377.8 L369.8,378.3 L370.3,378.3 L370.3,377.5 L370.8,377.5 L370.8,377.5 L371.3,377.5 L371.3,377.8 L371.8,377.8 L371.8,377.6 L372.3,377.6 L372.3,377.6 L372.8,377.6 L372.8,377.7 L373.3,377.7 L373.3,377.5 L373.8,377.5 L373.8,377.7 L374.3,377.7 L374.3,377.4 L374.8,377.4 L374.8,375.2 L375.3,375.2 L375.3,373.3 L375.8,373.3 L375.8,373.3 L376.3,373.3 L376.3,373.3 L376.8,373.3 L376.8,373.6 L377.3,373.6 L377.3,373.4 L377.8,373.4 L377.8,373.2 L378.3,373.2 L378.3,373.6 L378.8,373.6 L378.8,372.5 L379.3,372.5 L379.3,372.7 L379.8,372.7 L379.8,373.6 L380.3,373.6 L380.3,373.8 L380.8,373.8 L380.8,373.0 L381.3,373.0 L381.3,375.6 L381.8,375.6 L381.8,377.8 L382.3,377.8 L382.3,377.8 L382.8,377.8 L382.8,377.8 L383.3,377.8 L383.3,377.7 L383.8,377.7 L383.8,377.8 L384.3,377.8 L384.3,377.8 L384.8,377.8 L384.8,377.7 L385.3,377.7 L385.3,377.7 L385.8,377.7 L385.8,377.8 L386.3,377.8 L386.3,377.6 L386.8,377.6 L386.8,377.8 L387.3,377.8 L387.3,377.5 L387.8,377.5 L387.8,377.8 L388.3,377.8 L388.3,378.3 L388.8,378.3 L388.8,378.3 L389.3,378.3 L389.3,377.8 L389.8,377.8 L389.8,378.3 L390.3,378.3 L390.3,374.6 L390.8,374.6 L390.8,373.9 L391.3,373.9 L391.3,374.4 L391.8,374.4 L391.8,374.6 L392.3,374.6 L392.3,374.6 L392.8,374.6 L392.8,374.1 L393.3,374.1 L393.3,374.0 L393.8,374.0 L393.8,374.2 L394.3,374.2 L394.3,374.3 L394.8,374.3 L394.8,374.1 L395.3,374.1 L395.3,373.9 L395.8,373.9 L395.8,374.1 L396.3,374.1 L396.3,374.1 L396.8,374.1 L396.8,374.5 L397.3,374.5 L397.3,373.9 L397.8,373.9 L397.8,373.9 L398.3,373.9 L398.3,374.4 L398.8,374.4 L398.8,373.5 L399.3,373.5 L399.3,373.4 L399.8,373.4 L399.8,373.4 L400.3,373.4 L400.3,374.5 L400.8,374.5 L400.8,374.2 L401.3,374.2 L401.3,375.8 L401.8,375.8 L401.8,377.7 L402.3,377.7 L402.3,377.8 L402.8,377.8 L402.8,378.3 L403.3,378.3 L403.3,377.8 L403.8,377.8 L403.8,378.3 L404.3,378.3 L404.3,377.8 L404.8,377.8 L404.8,377.8 L405.3,377.8 L405.3,376.4 L405.8,376.4 L405.8,376.4 L406.3,376.4 L406.3,376.5 L406.8,376.5 L406.8,377.8 L407.3,377.8 L407.3,377.6 L407.8,377.6 L407.8,377.7 L408.3,377.7 L408.3,377.6 L408.8,377.6 L408.8,378.3 L409.3,378.3 L409.3,377.7 L409.8,377.7 L409.8,378.3 L410.3,378.3 L410.3,377.6 L410.8,377.6 L410.8,377.6 L411.3,377.6 L411.3,377.8 L411.8,377.8 L411.8,377.5 L412.3,377.5 L412.3,377.7 L412.8,377.7 L412.8,378.3 L413.3,378.3 L413.3,377.8 L413.8,377.8 L413.8,376.7 L414.3,376.7 L414.3,373.4 L414.8,373.4 L414.8,373.4 L415.3,373.4 L415.3,373.8 L415.8,373.8 L415.8,373.3 L416.3,373.3 L416.3,377.7 L416.8,377.7 L416.8,377.8 L417.3,377.8 L417.3,377.7 L417.8,377.7 L417.8,377.6 L418.3,377.6 L418.3,378.3 L418.8,378.3 L418.8,377.8 L419.3,377.8 L419.3,377.7 L419.8,377.7 L419.8,377.6 L420.3,377.6 L420.3,377.8 L420.8,377.8 L420.8,377.7 L421.3,377.7 L421.3,378.3 L421.8,378.3 L421.8,377.6 L422.3,377.6 L422.3,377.5 L422.8,377.5 L422.8,377.5 L423.3,377.5 L423.3,377.8 L423.8,377.8 L423.8,377.7 L424.3,377.7 L424.3,377.7 L424.8,377.7 L424.8,377.6 L425.3,377.6 L425.3,377.7 L425.8,377.7 L425.8,377.6 L426.3,377.6 L426.3,377.8 L426.8,377.8 L426.8,377.8 L427.3,377.8 L427.3,377.7 L427.8,377.7 L427.8,377.8 L428.3,377.8 L428.3,378.3 L428.8,378.3 L428.8,377.6 L429.3,377.6 L429.3,377.5 L429.8,377.5 L429.8,377.5 L430.3,377.5 L430.3,378.3 L430.8,378.3 L430.8,377.8 L431.3,377.8 L431.3,377.7 L431.8,377.7 L431.8,378.3 L432.3,378.3 L432.3,377.8 L432.8,377.8 L432.8,377.8 L433.3,377.8 L433.3,377.7 L433.8,377.7 L433.8,377.8 L434.3,377.8 L434.3,377.6 L434.8,377.6 L434.8,377.5 L435.3,377.5 L435.3,377.8 L435.8,377.8 L435.8,376.3 L436.3,376.3 L436.3,372.4 L436.8,372.4 L436.8,373.1 L437.3,373.1 L437.3,377.5 L437.8,377.5 L437.8,377.6 L438.3,377.6 L438.3,377.6 L438.8,377.6 L438.8,377.7 L439.3,377.7 L439.3,377.8 L439.8,377.8 L439.8,377.6 L440.3,377.6 L440.3,377.7 L440.8,377.7 L440.8,377.7 L441.3,377.7 L441.3,377.6 L441.8,377.6 L441.8,377.5 L442.3,377.5 L442.3,377.7 L442.8,377.7 L442.8,377.7 L443.3,377.7 L443.3,377.6 L443.8,377.6 L443.8,377.6 L444.3,377.6 L444.3,378.3 L444.8,378.3 L444.8,377.7 L445.3,377.7 L445.3,377.8 L445.8,377.8 L445.8,377.5 L446.3,377.5 L446.3,378.3 L446.8,378.3 L446.8,377.7 L447.3,377.7 L447.3,377.5 L447.8,377.5 L447.8,377.6 L448.3,377.6 L448.3,377.5 L448.8,377.5 L448.8,377.7 L449.3,377.7 L449.3,377.7 L449.8,377.7 L449.8,377.5 L450.3,377.5 L450.3,377.7 L450.8,377.7 L450.8,377.8 L451.3,377.8 L451.3,377.8 L451.8,377.8 L451.8,377.8 L452.3,377.8 L452.3,377.8 L452.8,377.8 L452.8,378.3 L453.3,378.3 L453.3,377.6 L453.8,377.6 L453.8,377.6 L454.3,377.6 L454.3,377.8 L454.8,377.8 L454.8,377.5 L455.3,377.5 L455.3,378.3 L455.8,378.3 L455.8,377.7 L456.3,377.7 L456.3,377.7 L456.8,377.7 L456.8,378.3 L457.3,378.3 L457.3,377.5 L457.8,377.5 L457.8,377.5 L458.3,377.5 L458.3,377.5 L458.8,377.5 L458.8,377.6 L459.3,377.6 L459.3,377.8 L459.8,377.8 L459.8,377.8 L460.3,377.8 L460.3,377.6 L460.8,377.6 L460.8,377.8 L461.3,377.8 L461.3,377.7 L461.8,377.7 L461.8,377.8 L462.3,377.8 L462.3,377.5 L462.8,377.5 L462.8,377.8 L463.3,377.8 L463.3,377.8 L463.8,377.8 L463.8,377.5 L464.3,377.5 L464.3,378.3 L464.8,378.3 L464.8,377.5 L465.3,377.5 L465.3,377.5 L465.8,377.5 L465.8,377.7 L466.3,377.7 L466.3,377.7 L466.8,377.7 L466.8,377.7 L467.3,377.7 L467.3,378.3 L467.8,378.3 L467.8,377.6 L468.3,377.6 L468.3,377.7 L468.8,377.7 L468.8,377.7 L469.3,377.7 L469.3,377.7 L469.8,377.7 L469.8,377.8 L470.3,377.8 L470.3,377.5 L470.8,377.5 L470.8,377.8 L471.3,377.8 L471.3,377.6 L471.8,377.6 L471.8,377.8 L472.3,377.8 L472.3,377.8 L472.8,377.8 L472.8,377.7 L473.3,377.7 L473.3,377.8 L473.8,377.8 L473.8,378.3 L474.3,378.3 L474.3,377.6 L474.8,377.6 L474.8,377.6 L475.3,377.6 L475.3,377.6 L475.8,377.6 L475.8,378.3 L476.3,378.3 L476.3,377.7 L476.8,377.7 L476.8,377.6 L477.3,377.6 L477.3,377.7 L477.8,377.7 L477.8,377.7 L478.3,377.7 L478.3,377.6 L478.8,377.6 L478.8,377.5 L479.3,377.5 L479.3,377.6 L479.8,377.6 L479.8,377.5 L480.3,377.5 L480.3,377.8 L480.8,377.8 L480.8,377.6 L481.3,377.6 L481.3,377.6 L481.8,377.6 L481.8,377.5 L482.3,377.5 L482.3,377.7 L482.8,377.7 L482.8,377.5 L483.3,377.5 L483.3,377.7 L483.8,377.7 L483.8,377.6 L484.3,377.6 L484.3,378.3 L484.8,378.3 L484.8,377.6 L485.3,377.6 L485.3,377.8 L485.8,377.8 L485.8,377.7 L486.3,377.7 L486.3,377.7 L486.8,377.7 L486.8,377.7 L487.3,377.7 L487.3,377.7 L487.8,377.7 L487.8,377.6 L488.3,377.6 L488.3,377.7 L488.8,377.7 L488.8,377.7 L489.3,377.7 L489.3,377.6 L489.8,377.6 L489.8,377.6 L490.3,377.6 L490.3,377.8 L490.8,377.8 L490.8,377.6 L491.3,377.6 L491.3,377.8 L491.8,377.8 L491.8,377.8 L492.3,377.8 L492.3,378.3 L492.8,378.3 L492.8,377.5 L493.3,377.5 L493.3,377.6 L493.8,377.6 L493.8,377.6 L494.3,377.6 L494.3,377.7 L494.8,377.7 L494.8,377.8 L495.3,377.8 L495.3,377.7 L495.8,377.7 L495.8,377.5 L496.3,377.5 L496.3,377.8 L496.8,377.8 L496.8,377.6 L497.3,377.6 L497.3,378.3 L497.8,378.3 L497.8,378.3 L498.3,378.3 L498.3,377.8 L498.8,377.8 L498.8,378.3 Z" fill="#4f9a96"/>
<path d="M235.8,400.3 L235.8,397.0 L236.3,397.0 L236.3,399.2 L236.8,399.2 L236.8,399.5 L237.3,399.5 L237.3,399.8 L237.8,399.8 L237.8,399.7 L238.3,399.7 L238.3,399.8 L238.8,399.8 L238.8,399.4 L239.3,399.4 L239.3,399.5 L239.8,399.5 L239.8,399.8 L240.3,399.8 L240.3,399.6 L240.8,399.6 L240.8,399.5 L241.3,399.5 L241.3,399.8 L241.8,399.8 L241.8,399.5 L242.3,399.5 L242.3,399.8 L242.8,399.8 L242.8,399.8 L243.3,399.8 L243.3,399.5 L243.8,399.5 L243.8,399.7 L244.3,399.7 L244.3,399.6 L244.8,399.6 L244.8,399.5 L245.3,399.5 L245.3,399.7 L245.8,399.7 L245.8,399.7 L246.3,399.7 L246.3,399.7 L246.8,399.7 L246.8,399.8 L247.3,399.8 L247.3,396.4 L247.8,396.4 L247.8,392.7 L248.3,392.7 L248.3,393.9 L248.8,393.9 L248.8,393.7 L249.3,393.7 L249.3,398.0 L249.8,398.0 L249.8,399.8 L250.3,399.8 L250.3,400.3 L250.8,400.3 L250.8,399.5 L251.3,399.5 L251.3,399.7 L251.8,399.7 L251.8,399.8 L252.3,399.8 L252.3,399.8 L252.8,399.8 L252.8,399.4 L253.3,399.4 L253.3,399.5 L253.8,399.5 L253.8,399.8 L254.3,399.8 L254.3,399.4 L254.8,399.4 L254.8,399.7 L255.3,399.7 L255.3,399.6 L255.8,399.6 L255.8,399.7 L256.3,399.7 L256.3,399.7 L256.8,399.7 L256.8,399.7 L257.3,399.7 L257.3,399.7 L257.8,399.7 L257.8,400.3 L258.3,400.3 L258.3,400.3 L258.8,400.3 L258.8,399.5 L259.3,399.5 L259.3,399.7 L259.8,399.7 L259.8,399.4 L260.3,399.4 L260.3,399.8 L260.8,399.8 L260.8,400.3 L261.3,400.3 L261.3,400.3 L261.8,400.3 L261.8,399.5 L262.3,399.5 L262.3,399.8 L262.8,399.8 L262.8,399.7 L263.3,399.7 L263.3,399.8 L263.8,399.8 L263.8,399.5 L264.3,399.5 L264.3,399.4 L264.8,399.4 L264.8,399.7 L265.3,399.7 L265.3,399.8 L265.8,399.8 L265.8,399.7 L266.3,399.7 L266.3,399.5 L266.8,399.5 L266.8,399.8 L267.3,399.8 L267.3,399.7 L267.8,399.7 L267.8,399.7 L268.3,399.7 L268.3,399.8 L268.8,399.8 L268.8,400.3 L269.3,400.3 L269.3,399.6 L269.8,399.6 L269.8,399.7 L270.3,399.7 L270.3,399.6 L270.8,399.6 L270.8,399.5 L271.3,399.5 L271.3,399.8 L271.8,399.8 L271.8,399.5 L272.3,399.5 L272.3,399.4 L272.8,399.4 L272.8,399.6 L273.3,399.6 L273.3,399.6 L273.8,399.6 L273.8,399.6 L274.3,399.6 L274.3,399.5 L274.8,399.5 L274.8,399.4 L275.3,399.4 L275.3,399.8 L275.8,399.8 L275.8,399.4 L276.3,399.4 L276.3,399.8 L276.8,399.8 L276.8,399.8 L277.3,399.8 L277.3,399.5 L277.8,399.5 L277.8,400.3 L278.3,400.3 L278.3,399.6 L278.8,399.6 L278.8,399.5 L279.3,399.5 L279.3,399.8 L279.8,399.8 L279.8,400.3 L280.3,400.3 L280.3,399.8 L280.8,399.8 L280.8,399.8 L281.3,399.8 L281.3,399.5 L281.8,399.5 L281.8,399.6 L282.3,399.6 L282.3,399.8 L282.8,399.8 L282.8,399.7 L283.3,399.7 L283.3,399.5 L283.8,399.5 L283.8,399.6 L284.3,399.6 L284.3,400.3 L284.8,400.3 L284.8,400.3 L285.3,400.3 L285.3,399.6 L285.8,399.6 L285.8,399.6 L286.3,399.6 L286.3,399.7 L286.8,399.7 L286.8,399.6 L287.3,399.6 L287.3,400.3 L287.8,400.3 L287.8,399.5 L288.3,399.5 L288.3,399.6 L288.8,399.6 L288.8,399.5 L289.3,399.5 L289.3,399.7 L289.8,399.7 L289.8,399.4 L290.3,399.4 L290.3,399.8 L290.8,399.8 L290.8,399.5 L291.3,399.5 L291.3,399.7 L291.8,399.7 L291.8,399.5 L292.3,399.5 L292.3,400.3 L292.8,400.3 L292.8,399.8 L293.3,399.8 L293.3,399.5 L293.8,399.5 L293.8,399.5 L294.3,399.5 L294.3,399.5 L294.8,399.5 L294.8,399.8 L295.3,399.8 L295.3,399.7 L295.8,399.7 L295.8,399.4 L296.3,399.4 L296.3,399.8 L296.8,399.8 L296.8,399.6 L297.3,399.6 L297.3,399.5 L297.8,399.5 L297.8,399.8 L298.3,399.8 L298.3,399.5 L298.8,399.5 L298.8,399.5 L299.3,399.5 L299.3,399.6 L299.8,399.6 L299.8,399.6 L300.3,399.6 L300.3,399.4 L300.8,399.4 L300.8,399.4 L301.3,399.4 L301.3,399.5 L301.8,399.5 L301.8,399.6 L302.3,399.6 L302.3,399.8 L302.8,399.8 L302.8,399.7 L303.3,399.7 L303.3,399.8 L303.8,399.8 L303.8,399.8 L304.3,399.8 L304.3,399.8 L304.8,399.8 L304.8,399.7 L305.3,399.7 L305.3,399.7 L305.8,399.7 L305.8,399.8 L306.3,399.8 L306.3,399.4 L306.8,399.4 L306.8,399.6 L307.3,399.6 L307.3,399.7 L307.8,399.7 L307.8,400.3 L308.3,400.3 L308.3,400.3 L308.8,400.3 L308.8,399.5 L309.3,399.5 L309.3,399.5 L309.8,399.5 L309.8,399.8 L310.3,399.8 L310.3,399.6 L310.8,399.6 L310.8,399.4 L311.3,399.4 L311.3,399.4 L311.8,399.4 L311.8,399.6 L312.3,399.6 L312.3,399.5 L312.8,399.5 L312.8,399.5 L313.3,399.5 L313.3,399.4 L313.8,399.4 L313.8,399.6 L314.3,399.6 L314.3,399.5 L314.8,399.5 L314.8,399.7 L315.3,399.7 L315.3,399.6 L315.8,399.6 L315.8,399.4 L316.3,399.4 L316.3,399.7 L316.8,399.7 L316.8,399.7 L317.3,399.7 L317.3,399.8 L317.8,399.8 L317.8,399.6 L318.3,399.6 L318.3,399.6 L318.8,399.6 L318.8,399.4 L319.3,399.4 L319.3,399.8 L319.8,399.8 L319.8,400.3 L320.3,400.3 L320.3,399.4 L320.8,399.4 L320.8,399.6 L321.3,399.6 L321.3,399.8 L321.8,399.8 L321.8,399.8 L322.3,399.8 L322.3,399.4 L322.8,399.4 L322.8,399.8 L323.3,399.8 L323.3,399.7 L323.8,399.7 L323.8,399.8 L324.3,399.8 L324.3,399.5 L324.8,399.5 L324.8,399.4 L325.3,399.4 L325.3,399.6 L325.8,399.6 L325.8,399.8 L326.3,399.8 L326.3,400.3 L326.8,400.3 L326.8,399.8 L327.3,399.8 L327.3,400.3 L327.8,400.3 L327.8,399.7 L328.3,399.7 L328.3,399.5 L328.8,399.5 L328.8,399.6 L329.3,399.6 L329.3,399.5 L329.8,399.5 L329.8,399.6 L330.3,399.6 L330.3,399.5 L330.8,399.5 L330.8,399.6 L331.3,399.6 L331.3,399.5 L331.8,399.5 L331.8,399.8 L332.3,399.8 L332.3,399.5 L332.8,399.5 L332.8,399.7 L333.3,399.7 L333.3,399.5 L333.8,399.5 L333.8,399.7 L334.3,399.7 L334.3,399.8 L334.8,399.8 L334.8,399.8 L335.3,399.8 L335.3,399.8 L335.8,399.8 L335.8,399.5 L336.3,399.5 L336.3,399.7 L336.8,399.7 L336.8,399.6 L337.3,399.6 L337.3,399.8 L337.8,399.8 L337.8,399.4 L338.3,399.4 L338.3,399.4 L338.8,399.4 L338.8,399.7 L339.3,399.7 L339.3,399.5 L339.8,399.5 L339.8,399.8 L340.3,399.8 L340.3,399.4 L340.8,399.4 L340.8,399.6 L341.3,399.6 L341.3,399.6 L341.8,399.6 L341.8,400.3 L342.3,400.3 L342.3,399.7 L342.8,399.7 L342.8,399.6 L343.3,399.6 L343.3,399.4 L343.8,399.4 L343.8,399.7 L344.3,399.7 L344.3,399.4 L344.8,399.4 L344.8,399.5 L345.3,399.5 L345.3,399.5 L345.8,399.5 L345.8,399.6 L346.3,399.6 L346.3,399.7 L346.8,399.7 L346.8,399.5 L347.3,399.5 L347.3,399.6 L347.8,399.6 L347.8,399.7 L348.3,399.7 L348.3,399.8 L348.8,399.8 L348.8,399.4 L349.3,399.4 L349.3,399.8 L349.8,399.8 L349.8,399.5 L350.3,399.5 L350.3,399.8 L350.8,399.8 L350.8,399.6 L351.3,399.6 L351.3,399.8 L351.8,399.8 L351.8,399.8 L352.3,399.8 L352.3,399.8 L352.8,399.8 L352.8,399.4 L353.3,399.4 L353.3,399.5 L353.8,399.5 L353.8,399.7 L354.3,399.7 L354.3,399.8 L354.8,399.8 L354.8,399.4 L355.3,399.4 L355.3,399.5 L355.8,399.5 L355.8,397.8 L356.3,397.8 L356.3,395.8 L356.8,395.8 L356.8,395.0 L357.3,395.0 L357.3,395.2 L357.8,395.2 L357.8,399.6 L358.3,399.6 L358.3,399.7 L358.8,399.7 L358.8,399.7 L359.3,399.7 L359.3,399.8 L359.8,399.8 L359.8,399.7 L360.3,399.7 L360.3,399.8 L360.8,399.8 L360.8,399.8 L361.3,399.8 L361.3,399.8 L361.8,399.8 L361.8,399.8 L362.3,399.8 L362.3,399.5 L362.8,399.5 L362.8,399.6 L363.3,399.6 L363.3,399.7 L363.8,399.7 L363.8,399.4 L364.3,399.4 L364.3,399.7 L364.8,399.7 L364.8,399.8 L365.3,399.8 L365.3,399.7 L365.8,399.7 L365.8,399.6 L366.3,399.6 L366.3,399.8 L366.8,399.8 L366.8,399.8 L367.3,399.8 L367.3,399.8 L367.8,399.8 L367.8,399.8 L368.3,399.8 L368.3,399.8 L368.8,399.8 L368.8,399.7 L369.3,399.7 L369.3,399.6 L369.8,399.6 L369.8,399.4 L370.3,399.4 L370.3,399.8 L370.8,399.8 L370.8,399.4 L371.3,399.4 L371.3,399.4 L371.8,399.4 L371.8,400.3 L372.3,400.3 L372.3,399.5 L372.8,399.5 L372.8,399.5 L373.3,399.5 L373.3,399.8 L373.8,399.8 L373.8,396.6 L374.3,396.6 L374.3,391.8 L374.8,391.8 L374.8,393.0 L375.3,393.0 L375.3,392.7 L375.8,392.7 L375.8,392.0 L376.3,392.0 L376.3,386.5 L376.8,386.5 L376.8,387.0 L377.3,387.0 L377.3,384.7 L377.8,384.7 L377.8,383.3 L378.3,383.3 L378.3,384.2 L378.8,384.2 L378.8,386.7 L379.3,386.7 L379.3,385.7 L379.8,385.7 L379.8,382.7 L380.3,382.7 L380.3,385.2 L380.8,385.2 L380.8,385.1 L381.3,385.1 L381.3,395.2 L381.8,395.2 L381.8,399.8 L382.3,399.8 L382.3,400.3 L382.8,400.3 L382.8,399.7 L383.3,399.7 L383.3,399.7 L383.8,399.7 L383.8,399.8 L384.3,399.8 L384.3,399.5 L384.8,399.5 L384.8,399.4 L385.3,399.4 L385.3,399.7 L385.8,399.7 L385.8,399.6 L386.3,399.6 L386.3,399.7 L386.8,399.7 L386.8,399.8 L387.3,399.8 L387.3,399.8 L387.8,399.8 L387.8,399.6 L388.3,399.6 L388.3,399.8 L388.8,399.8 L388.8,399.6 L389.3,399.6 L389.3,400.3 L389.8,400.3 L389.8,396.9 L390.3,396.9 L390.3,390.1 L390.8,390.1 L390.8,389.3 L391.3,389.3 L391.3,388.9 L391.8,388.9 L391.8,387.6 L392.3,387.6 L392.3,388.4 L392.8,388.4 L392.8,387.2 L393.3,387.2 L393.3,388.4 L393.8,388.4 L393.8,386.9 L394.3,386.9 L394.3,387.0 L394.8,387.0 L394.8,389.5 L395.3,389.5 L395.3,388.7 L395.8,388.7 L395.8,389.3 L396.3,389.3 L396.3,386.2 L396.8,386.2 L396.8,387.5 L397.3,387.5 L397.3,388.6 L397.8,388.6 L397.8,389.2 L398.3,389.2 L398.3,386.9 L398.8,386.9 L398.8,388.0 L399.3,388.0 L399.3,384.6 L399.8,384.6 L399.8,385.0 L400.3,385.0 L400.3,385.2 L400.8,385.2 L400.8,387.7 L401.3,387.7 L401.3,392.4 L401.8,392.4 L401.8,397.4 L402.3,397.4 L402.3,399.0 L402.8,399.0 L402.8,398.8 L403.3,398.8 L403.3,399.7 L403.8,399.7 L403.8,399.8 L404.3,399.8 L404.3,399.8 L404.8,399.8 L404.8,397.7 L405.3,397.7 L405.3,395.3 L405.8,395.3 L405.8,395.7 L406.3,395.7 L406.3,395.7 L406.8,395.7 L406.8,395.7 L407.3,395.7 L407.3,397.3 L407.8,397.3 L407.8,399.5 L408.3,399.5 L408.3,399.7 L408.8,399.7 L408.8,399.6 L409.3,399.6 L409.3,399.7 L409.8,399.7 L409.8,399.5 L410.3,399.5 L410.3,400.3 L410.8,400.3 L410.8,399.5 L411.3,399.5 L411.3,399.6 L411.8,399.6 L411.8,399.7 L412.3,399.7 L412.3,399.7 L412.8,399.7 L412.8,399.7 L413.3,399.7 L413.3,397.9 L413.8,397.9 L413.8,396.0 L414.3,396.0 L414.3,383.0 L414.8,383.0 L414.8,385.1 L415.3,385.1 L415.3,382.4 L415.8,382.4 L415.8,389.7 L416.3,389.7 L416.3,396.4 L416.8,396.4 L416.8,395.9 L417.3,395.9 L417.3,396.5 L417.8,396.5 L417.8,395.9 L418.3,395.9 L418.3,396.3 L418.8,396.3 L418.8,398.7 L419.3,398.7 L419.3,400.3 L419.8,400.3 L419.8,399.5 L420.3,399.5 L420.3,399.5 L420.8,399.5 L420.8,399.8 L421.3,399.8 L421.3,399.7 L421.8,399.7 L421.8,399.6 L422.3,399.6 L422.3,399.4 L422.8,399.4 L422.8,399.5 L423.3,399.5 L423.3,399.4 L423.8,399.4 L423.8,399.7 L424.3,399.7 L424.3,399.5 L424.8,399.5 L424.8,399.4 L425.3,399.4 L425.3,399.5 L425.8,399.5 L425.8,399.6 L426.3,399.6 L426.3,399.6 L426.8,399.6 L426.8,399.8 L427.3,399.8 L427.3,399.5 L427.8,399.5 L427.8,399.8 L428.3,399.8 L428.3,399.5 L428.8,399.5 L428.8,399.5 L429.3,399.5 L429.3,399.6 L429.8,399.6 L429.8,399.8 L430.3,399.8 L430.3,400.3 L430.8,400.3 L430.8,399.5 L431.3,399.5 L431.3,399.7 L431.8,399.7 L431.8,399.8 L432.3,399.8 L432.3,399.8 L432.8,399.8 L432.8,400.3 L433.3,400.3 L433.3,399.5 L433.8,399.5 L433.8,399.8 L434.3,399.8 L434.3,399.7 L434.8,399.7 L434.8,399.6 L435.3,399.6 L435.3,399.0 L435.8,399.0 L435.8,397.8 L436.3,397.8 L436.3,391.3 L436.8,391.3 L436.8,392.2 L437.3,392.2 L437.3,391.1 L437.8,391.1 L437.8,397.5 L438.3,397.5 L438.3,397.6 L438.8,397.6 L438.8,399.4 L439.3,399.4 L439.3,399.8 L439.8,399.8 L439.8,399.5 L440.3,399.5 L440.3,399.5 L440.8,399.5 L440.8,399.6 L441.3,399.6 L441.3,399.6 L441.8,399.6 L441.8,399.8 L442.3,399.8 L442.3,399.6 L442.8,399.6 L442.8,399.7 L443.3,399.7 L443.3,399.5 L443.8,399.5 L443.8,399.5 L444.3,399.5 L444.3,399.4 L444.8,399.4 L444.8,399.7 L445.3,399.7 L445.3,399.6 L445.8,399.6 L445.8,399.8 L446.3,399.8 L446.3,399.6 L446.8,399.6 L446.8,400.3 L447.3,400.3 L447.3,399.8 L447.8,399.8 L447.8,399.8 L448.3,399.8 L448.3,399.7 L448.8,399.7 L448.8,399.5 L449.3,399.5 L449.3,399.5 L449.8,399.5 L449.8,399.7 L450.3,399.7 L450.3,399.8 L450.8,399.8 L450.8,399.6 L451.3,399.6 L451.3,399.6 L451.8,399.6 L451.8,399.7 L452.3,399.7 L452.3,399.8 L452.8,399.8 L452.8,399.4 L453.3,399.4 L453.3,399.5 L453.8,399.5 L453.8,399.8 L454.3,399.8 L454.3,399.5 L454.8,399.5 L454.8,399.6 L455.3,399.6 L455.3,399.8 L455.8,399.8 L455.8,399.6 L456.3,399.6 L456.3,399.6 L456.8,399.6 L456.8,399.4 L457.3,399.4 L457.3,399.5 L457.8,399.5 L457.8,399.6 L458.3,399.6 L458.3,399.8 L458.8,399.8 L458.8,399.5 L459.3,399.5 L459.3,399.4 L459.8,399.4 L459.8,399.6 L460.3,399.6 L460.3,399.8 L460.8,399.8 L460.8,399.6 L461.3,399.6 L461.3,399.6 L461.8,399.6 L461.8,399.6 L462.3,399.6 L462.3,399.7 L462.8,399.7 L462.8,399.7 L463.3,399.7 L463.3,399.7 L463.8,399.7 L463.8,399.6 L464.3,399.6 L464.3,399.7 L464.8,399.7 L464.8,399.7 L465.3,399.7 L465.3,399.8 L465.8,399.8 L465.8,399.8 L466.3,399.8 L466.3,399.8 L466.8,399.8 L466.8,399.8 L467.3,399.8 L467.3,399.7 L467.8,399.7 L467.8,399.5 L468.3,399.5 L468.3,399.8 L468.8,399.8 L468.8,399.7 L469.3,399.7 L469.3,399.7 L469.8,399.7 L469.8,399.6 L470.3,399.6 L470.3,399.8 L470.8,399.8 L470.8,399.4 L471.3,399.4 L471.3,399.5 L471.8,399.5 L471.8,399.6 L472.3,399.6 L472.3,399.5 L472.8,399.5 L472.8,399.5 L473.3,399.5 L473.3,399.6 L473.8,399.6 L473.8,399.5 L474.3,399.5 L474.3,400.3 L474.8,400.3 L474.8,399.5 L475.3,399.5 L475.3,400.3 L475.8,400.3 L475.8,399.7 L476.3,399.7 L476.3,399.4 L476.8,399.4 L476.8,400.3 L477.3,400.3 L477.3,399.6 L477.8,399.6 L477.8,399.4 L478.3,399.4 L478.3,400.3 L478.8,400.3 L478.8,399.7 L479.3,399.7 L479.3,399.5 L479.8,399.5 L479.8,399.4 L480.3,399.4 L480.3,399.5 L480.8,399.5 L480.8,399.7 L481.3,399.7 L481.3,399.5 L481.8,399.5 L481.8,399.8 L482.3,399.8 L482.3,400.3 L482.8,400.3 L482.8,399.7 L483.3,399.7 L483.3,399.8 L483.8,399.8 L483.8,399.7 L484.3,399.7 L484.3,399.8 L484.8,399.8 L484.8,399.8 L485.3,399.8 L485.3,399.7 L485.8,399.7 L485.8,399.8 L486.3,399.8 L486.3,399.5 L486.8,399.5 L486.8,399.6 L487.3,399.6 L487.3,399.8 L487.8,399.8 L487.8,398.9 L488.3,398.9 L488.3,397.3 L488.8,397.3 L488.8,397.3 L489.3,397.3 L489.3,399.4 L489.8,399.4 L489.8,399.5 L490.3,399.5 L490.3,399.7 L490.8,399.7 L490.8,399.5 L491.3,399.5 L491.3,399.7 L491.8,399.7 L491.8,399.7 L492.3,399.7 L492.3,399.7 L492.8,399.7 L492.8,399.6 L493.3,399.6 L493.3,399.4 L493.8,399.4 L493.8,399.7 L494.3,399.7 L494.3,399.6 L494.8,399.6 L494.8,399.6 L495.3,399.6 L495.3,399.5 L495.8,399.5 L495.8,399.5 L496.3,399.5 L496.3,399.5 L496.8,399.5 L496.8,399.4 L497.3,399.4 L497.3,399.8 L497.8,399.8 L497.8,399.8 L498.3,399.8 L498.3,399.6 L498.8,399.6 L498.8,400.3 Z" fill="#1c1cc4"/>
<line x1="236" y1="331.2" x2="348.3" y2="331.2" stroke="#e2e2e2" stroke-width="0.6" />
<line x1="440.5" y1="331.2" x2="499" y2="331.2" stroke="#e2e2e2" stroke-width="0.6" />
<line x1="236" y1="357.7" x2="348.3" y2="357.7" stroke="#e2e2e2" stroke-width="0.6" />
<line x1="440.5" y1="357.7" x2="499" y2="357.7" stroke="#e2e2e2" stroke-width="0.6" />
<line x1="236" y1="380.3" x2="348.3" y2="380.3" stroke="#e2e2e2" stroke-width="0.6" />
<line x1="440.5" y1="380.3" x2="499" y2="380.3" stroke="#e2e2e2" stroke-width="0.6" />
<line x1="236.1" y1="59.5" x2="236.1" y2="401" stroke="#e8e8e8" stroke-width="0.5" />
<line x1="226.5" y1="64.8" x2="226.5" y2="176.5" stroke="#111" stroke-width="1.2" />
<line x1="226.5" y1="180.9" x2="226.5" y2="293.5" stroke="#111" stroke-width="1.2" />
<line x1="223.5" y1="173.6" x2="226.5" y2="173.6" stroke="#222" stroke-width="1" />
<text x="0" y="0" transform="translate(219.8 176.6) scale(0.87 1)" font-size="8.6" text-anchor="end" fill="#1a1a1a" stroke="#1a1a1a" stroke-width="0.1" >0</text>
<line x1="223.5" y1="290.4" x2="226.5" y2="290.4" stroke="#222" stroke-width="1" />
<text x="0" y="0" transform="translate(219.8 293.4) scale(0.87 1)" font-size="8.6" text-anchor="end" fill="#1a1a1a" stroke="#1a1a1a" stroke-width="0.1" >0</text>
<line x1="223.5" y1="147.02499999999998" x2="226.5" y2="147.02499999999998" stroke="#222" stroke-width="1" />
<text x="0" y="0" transform="translate(219.8 150.02499999999998) scale(0.87 1)" font-size="8.6" text-anchor="end" fill="#1a1a1a" stroke="#1a1a1a" stroke-width="0.1" >500</text>
<line x1="223.5" y1="263.525" x2="226.5" y2="263.525" stroke="#222" stroke-width="1" />
<text x="0" y="0" transform="translate(219.8 266.525) scale(0.87 1)" font-size="8.6" text-anchor="end" fill="#1a1a1a" stroke="#1a1a1a" stroke-width="0.1" >500</text>
<line x1="223.5" y1="120.44999999999999" x2="226.5" y2="120.44999999999999" stroke="#222" stroke-width="1" />
<text x="0" y="0" transform="translate(219.8 123.44999999999999) scale(0.87 1)" font-size="8.6" text-anchor="end" fill="#1a1a1a" stroke="#1a1a1a" stroke-width="0.1" >1000</text>
<line x1="223.5" y1="236.64999999999998" x2="226.5" y2="236.64999999999998" stroke="#222" stroke-width="1" />
<text x="0" y="0" transform="translate(219.8 239.64999999999998) scale(0.87 1)" font-size="8.6" text-anchor="end" fill="#1a1a1a" stroke="#1a1a1a" stroke-width="0.1" >1000</text>
<line x1="223.5" y1="93.87499999999999" x2="226.5" y2="93.87499999999999" stroke="#222" stroke-width="1" />
<text x="0" y="0" transform="translate(219.8 96.87499999999999) scale(0.87 1)" font-size="8.6" text-anchor="end" fill="#1a1a1a" stroke="#1a1a1a" stroke-width="0.1" >1500</text>
<line x1="223.5" y1="209.77499999999998" x2="226.5" y2="209.77499999999998" stroke="#222" stroke-width="1" />
<text x="0" y="0" transform="translate(219.8 212.77499999999998) scale(0.87 1)" font-size="8.6" text-anchor="end" fill="#1a1a1a" stroke="#1a1a1a" stroke-width="0.1" >1500</text>
<line x1="223.5" y1="67.29999999999998" x2="226.5" y2="67.29999999999998" stroke="#222" stroke-width="1" />
<text x="0" y="0" transform="translate(219.8 70.29999999999998) scale(0.87 1)" font-size="8.6" text-anchor="end" fill="#1a1a1a" stroke="#1a1a1a" stroke-width="0.1" >2000</text>
<line x1="223.5" y1="182.89999999999998" x2="226.5" y2="182.89999999999998" stroke="#222" stroke-width="1" />
<text x="0" y="0" transform="translate(219.8 185.89999999999998) scale(0.87 1)" font-size="8.6" text-anchor="end" fill="#1a1a1a" stroke="#1a1a1a" stroke-width="0.1" >2000</text>
<text x="0" y="0" transform="translate(183.9 120.4) rotate(-90)" font-size="9.6" text-anchor="middle" fill="#1a1a1a" textLength="61" lengthAdjust="spacingAndGlyphs" stroke="#1a1a1a" stroke-width="0.1" >Fragment read</text>
<text x="0" y="0" transform="translate(195.7 120.4) rotate(-90)" font-size="9.6" text-anchor="middle" fill="#1a1a1a" textLength="51.5" lengthAdjust="spacingAndGlyphs" stroke="#1a1a1a" stroke-width="0.1" >count (RPM)</text>
<text x="0" y="0" transform="translate(183.9 237.3) rotate(-90)" font-size="9.6" text-anchor="middle" fill="#1a1a1a" textLength="61" lengthAdjust="spacingAndGlyphs" stroke="#1a1a1a" stroke-width="0.1" >Fragment read</text>
<text x="0" y="0" transform="translate(195.7 237.3) rotate(-90)" font-size="9.6" text-anchor="middle" fill="#1a1a1a" textLength="51.5" lengthAdjust="spacingAndGlyphs" stroke="#1a1a1a" stroke-width="0.1" >count (RPM)</text>
<text x="0" y="0" transform="translate(511 113) rotate(-90) scale(0.9 1)" font-size="8" text-anchor="middle" fill="#5a9a9a" stroke="#5a9a9a" stroke-width="0.1" >THP-1</text>
<text x="0" y="0" transform="translate(511 237) rotate(-90) scale(0.9 1)" font-size="8" text-anchor="middle" fill="#383890" stroke="#383890" stroke-width="0.1" >THP-1 PMAVD3</text>
<line x1="234.8" y1="39.2" x2="234.8" y2="401" stroke="#555" stroke-width="1.2" />
<line x1="499.9" y1="39.6" x2="499.9" y2="401" stroke="#555" stroke-width="1.2" />
<line x1="234.8" y1="178.2" x2="499.9" y2="178.2" stroke="#666" stroke-width="1.2" />
<line x1="234.8" y1="294.4" x2="499.9" y2="294.4" stroke="#666" stroke-width="1.2" />
<line x1="384.5" y1="69.4" x2="384.5" y2="294.7" stroke="#333" stroke-width="0.9" stroke-dasharray="1 1"/>
<text x="0" y="0" transform="translate(380.2 66.8)" font-size="9" text-anchor="start" fill="#1a1a1a" textLength="9.4" lengthAdjust="spacingAndGlyphs" stroke="#1a1a1a" stroke-width="0.1" >VP</text>
<text x="0" y="0" transform="translate(236.89999999999998 38.3)" font-size="9" text-anchor="start" fill="#1a1a1a" textLength="24.2" lengthAdjust="spacingAndGlyphs" stroke="#1a1a1a" stroke-width="0.1" >NR1H3</text>
<text x="0" y="0" transform="translate(275.09999999999997 43.3)" font-size="9" text-anchor="start" fill="#1a1a1a" textLength="22.9" lengthAdjust="spacingAndGlyphs" stroke="#1a1a1a" stroke-width="0.1" >MADD</text>
<text x="0" y="0" transform="translate(316.3 37.8)" font-size="9" text-anchor="start" fill="#1a1a1a" textLength="29.8" lengthAdjust="spacingAndGlyphs" stroke="#1a1a1a" stroke-width="0.1" >MYBPC3</text>
<text x="0" y="0" transform="translate(359.4 42.9)" font-size="9" text-anchor="start" fill="#1a1a1a" textLength="15.9" lengthAdjust="spacingAndGlyphs" stroke="#1a1a1a" stroke-width="0.1" >PU.1</text>
<text x="0" y="0" transform="translate(400.0 38.3)" font-size="9" text-anchor="start" fill="#1a1a1a" textLength="35.7" lengthAdjust="spacingAndGlyphs" stroke="#1a1a1a" stroke-width="0.1" >SCL39A13</text>
<text x="0" y="0" transform="translate(411.2 59.8)" font-size="9" text-anchor="start" fill="#1a1a1a" textLength="25.1" lengthAdjust="spacingAndGlyphs" stroke="#1a1a1a" stroke-width="0.1" >PSMC3</text>
<text x="0" y="0" transform="translate(444.7 37.5)" font-size="9" text-anchor="start" fill="#1a1a1a" textLength="24.4" lengthAdjust="spacingAndGlyphs" stroke="#1a1a1a" stroke-width="0.1" >RAPSN</text>
<text x="0" y="0" transform="translate(476.9 37.5)" font-size="9" text-anchor="start" fill="#1a1a1a" textLength="21.1" lengthAdjust="spacingAndGlyphs" stroke="#1a1a1a" stroke-width="0.1" >CELF1</text>
<line x1="238" y1="43.9" x2="247" y2="43.9" stroke="#333" stroke-width="0.8" />
<rect x="235.6" y="42.6" width="2.6" height="2.6" fill="#bbb" stroke="#444" stroke-width="0.6"/>
<line x1="247" y1="41.9" x2="247" y2="45.9" stroke="#111" stroke-width="1.2" />
<line x1="248.4" y1="47.7" x2="320" y2="47.7" stroke="#4a4aa8" stroke-width="0.7" stroke-dasharray="1.2 0.5"/>
<rect x="252.7" y="46.3" width="1.6" height="2.8" rx="0.5" fill="#6868c0"/>
<rect x="255.0" y="46.3" width="1.6" height="2.8" rx="0.5" fill="#6868c0"/>
<rect x="257.3" y="46.3" width="1.6" height="2.8" rx="0.5" fill="#6868c0"/>
<rect x="261.6" y="46.3" width="1.6" height="2.8" rx="0.5" fill="#6868c0"/>
<rect x="263.9" y="46.3" width="1.6" height="2.8" rx="0.5" fill="#6868c0"/>
<rect x="266.4" y="46.3" width="1.6" height="2.8" rx="0.5" fill="#6868c0"/>
<rect x="271.5" y="46.0" width="1.7" height="3.4" rx="0.6" fill="#1a1a78"/>
<rect x="279.2" y="46.0" width="0.9" height="3.4" rx="0.6" fill="#1a1a78"/>
<rect x="295.0" y="46.0" width="1.0" height="3.4" rx="0.6" fill="#1a1a78"/>
<rect x="312.7" y="46.0" width="1.5" height="3.4" rx="0.6" fill="#1a1a78"/>
<rect x="275.5" y="46.4" width="1.5" height="2.6" rx="0.4" fill="#6868c0"/>
<rect x="277.2" y="46.4" width="1.1" height="2.6" rx="0.4" fill="#6868c0"/>
<rect x="298.0" y="46.4" width="1.0" height="2.6" rx="0.4" fill="#6868c0"/>
<rect x="302.4" y="46.4" width="0.8" height="2.6" rx="0.4" fill="#6868c0"/>
<rect x="315.5" y="46.4" width="1.0" height="2.6" rx="0.4" fill="#6868c0"/>
<path d="M318.6 45.9 L321.3 47.7 L318.6 49.5Z" fill="#1a1a78"/>
<line x1="323.7" y1="43.7" x2="348.5" y2="43.7" stroke="#222" stroke-width="0.8" />
<rect x="324.3" y="42.2" width="1.3" height="3" rx="1" fill="#111"/>
<rect x="327.5" y="42.2" width="1.9" height="3" rx="1" fill="#111"/>
<rect x="332.0" y="42.2" width="1.9" height="3" rx="1" fill="#111"/>
<rect x="335.1" y="42.2" width="3.2" height="3" rx="1" fill="#111"/>
<rect x="340.2" y="42.2" width="2.5" height="3" rx="1" fill="#111"/>
<rect x="344.6" y="42.2" width="2.0" height="3" rx="1" fill="#111"/>
<rect x="347.6" y="42.2" width="0.9" height="3" rx="1" fill="#111"/>
<line x1="351" y1="47.5" x2="380" y2="47.5" stroke="#6a6ac8" stroke-width="0.7" stroke-dasharray="1 0.6"/>
<rect x="351.0" y="46.3" width="1.3" height="2.4" rx="0.5" fill="#2a2a90"/>
<rect x="354.8" y="46.1" width="2.5" height="2.8" rx="1.2" fill="#6868c0"/>
<rect x="375.1" y="46.1" width="1.9" height="2.8" rx="1" fill="#6868c0"/>
<rect x="378.7" y="46.1" width="1.5" height="2.8" rx="0.8" fill="#2a2a90"/>
<line x1="415.2" y1="43.9" x2="424" y2="43.9" stroke="#2a2a90" stroke-width="0.7" />
<rect x="415.2" y="42.3" width="1.3" height="3.2" rx="0.8" fill="#6868c0"/>
<rect x="417.2" y="42.3" width="1.0" height="3.2" rx="0.8" fill="#2a2a90"/>
<rect x="418.8" y="42.3" width="2.0" height="3.2" rx="0.8" fill="#2a2a90"/>
<rect x="421.1" y="42.3" width="1.3" height="3.2" rx="0.8" fill="#2a2a90"/>
<path d="M422.7 42.2 L425.3 43.9 L422.7 45.6Z" fill="#10106a"/>
<line x1="427.3" y1="47.9" x2="437" y2="47.9" stroke="#2a2a90" stroke-width="0.7" />
<rect x="427.3" y="46.2" width="2.7" height="3.4" rx="0.3" fill="#6868c0"/>
<rect x="430.6" y="46.6" width="1.0" height="2.6" rx="0.3" fill="#2a2a90"/>
<rect x="432.2" y="46.4" width="1.3" height="3" rx="0.3" fill="#2a2a90"/>
<rect x="433.9" y="46.1" width="3.2" height="3.6" rx="0.3" fill="#10106a"/>
<line x1="450.3" y1="43.6" x2="465" y2="43.6" stroke="#6868c0" stroke-width="0.7" />
<rect x="450.3" y="42.1" width="2.2" height="3" rx="0.8" fill="#6868c0"/>
<rect x="453.5" y="42.1" width="2.1" height="3" rx="1.2" fill="#6868c0"/>
<rect x="455.8" y="42.1" width="2.0" height="3" rx="1.2" fill="#6868c0"/>
<rect x="462.1" y="42.1" width="3.1" height="3" rx="1" fill="#6868c0"/>
<line x1="484.8" y1="43.6" x2="499" y2="43.6" stroke="#555" stroke-width="0.7" />
<rect x="484.8" y="42.7" width="2.6" height="1.8" rx="0.4" fill="#111"/>
<rect x="491.2" y="42.3" width="2.2" height="2.6" rx="1" fill="#777"/>
<rect x="494.4" y="42.1" width="1.8" height="3" rx="0.3" fill="#888"/>
<rect x="496.6" y="42.1" width="2.0" height="3" rx="0.3" fill="#888"/>
<line x1="349.4" y1="22.2" x2="349.4" y2="401" stroke="#f01010" stroke-width="1.5" stroke-dasharray="1.4 1.27"/>
<line x1="439.3" y1="22.2" x2="439.3" y2="401" stroke="#f01010" stroke-width="1.5" stroke-dasharray="1.4 1.27"/>
<text x="0" y="0" transform="translate(156 309)" font-size="11.4" text-anchor="start" fill="#111" stroke="#111" stroke-width="0.1" >D</text>
<line x1="230.9" y1="308.7" x2="233.3" y2="308.7" stroke="#5a9a9a" stroke-width="0.9" />
<line x1="230.9" y1="328.0" x2="233.3" y2="328.0" stroke="#5a9a9a" stroke-width="0.9" />
<text x="0" y="0" transform="translate(228.5 314.59999999999997) scale(0.9 1)" font-size="8.6" text-anchor="end" fill="#5a9a9a" stroke="#5a9a9a" stroke-width="0.1" >20</text>
<text x="0" y="0" transform="translate(228.2 328.9) scale(0.9 1)" font-size="8.6" text-anchor="end" fill="#5a9a9a" stroke="#5a9a9a" stroke-width="0.1" >0</text>
<text x="0" y="0" transform="translate(214.5 321.85) scale(0.9 1)" font-size="8" text-anchor="end" fill="#5a9a9a" stroke="#5a9a9a" stroke-width="0.1" >THP-1</text>
<line x1="230.9" y1="330.4" x2="233.3" y2="330.4" stroke="#34348e" stroke-width="0.9" />
<line x1="230.9" y1="349.6" x2="233.3" y2="349.6" stroke="#34348e" stroke-width="0.9" />
<text x="0" y="0" transform="translate(228.5 336.29999999999995) scale(0.9 1)" font-size="8.6" text-anchor="end" fill="#34348e" stroke="#34348e" stroke-width="0.1" >20</text>
<text x="0" y="0" transform="translate(228.2 350.5) scale(0.9 1)" font-size="8.6" text-anchor="end" fill="#34348e" stroke="#34348e" stroke-width="0.1" >0</text>
<text x="0" y="0" transform="translate(214.5 343.5) scale(0.9 1)" font-size="8" text-anchor="end" fill="#34348e" stroke="#34348e" stroke-width="0.1" >THP-1 PMAVD3</text>
<line x1="230.9" y1="360.6" x2="233.3" y2="360.6" stroke="#5a9a9a" stroke-width="0.9" />
<line x1="230.9" y1="379.0" x2="233.3" y2="379.0" stroke="#5a9a9a" stroke-width="0.9" />
<text x="0" y="0" transform="translate(228.5 366.5) scale(0.9 1)" font-size="8.6" text-anchor="end" fill="#5a9a9a" stroke="#5a9a9a" stroke-width="0.1" >80</text>
<text x="0" y="0" transform="translate(228.2 379.9) scale(0.9 1)" font-size="8.6" text-anchor="end" fill="#5a9a9a" stroke="#5a9a9a" stroke-width="0.1" >0</text>
<text x="0" y="0" transform="translate(214.5 373.3) scale(0.9 1)" font-size="8" text-anchor="end" fill="#5a9a9a" stroke="#5a9a9a" stroke-width="0.1" >THP-1</text>
<line x1="230.9" y1="382.3" x2="233.3" y2="382.3" stroke="#34348e" stroke-width="0.9" />
<line x1="230.9" y1="400.4" x2="233.3" y2="400.4" stroke="#34348e" stroke-width="0.9" />
<text x="0" y="0" transform="translate(228.5 388.2) scale(0.9 1)" font-size="8.6" text-anchor="end" fill="#34348e" stroke="#34348e" stroke-width="0.1" >80</text>
<text x="0" y="0" transform="translate(228.2 401.29999999999995) scale(0.9 1)" font-size="8.6" text-anchor="end" fill="#34348e" stroke="#34348e" stroke-width="0.1" >0</text>
<text x="0" y="0" transform="translate(214.5 394.85) scale(0.9 1)" font-size="8" text-anchor="end" fill="#34348e" stroke="#34348e" stroke-width="0.1" >THP-1 PMAVD3</text>
<text x="0" y="0" transform="translate(231.9 413.2)" font-size="8.6" text-anchor="start" fill="#1a1a1a" textLength="59.8" lengthAdjust="spacingAndGlyphs" stroke="#1a1a1a" stroke-width="0.1" >chr11:47,280,000</text>
<text x="0" y="0" transform="translate(442.6 413.2)" font-size="8.6" text-anchor="start" fill="#1a1a1a" textLength="59.2" lengthAdjust="spacingAndGlyphs" stroke="#1a1a1a" stroke-width="0.1" >chr11:47,500,000</text>
<text x="0" y="0" transform="translate(510.8 321.5) rotate(-90) scale(0.9 1)" font-size="8.6" text-anchor="middle" fill="#1a1a1a" stroke="#1a1a1a" stroke-width="0.1" >H3K4me1</text>
<text x="0" y="0" transform="translate(510.8 374.5) rotate(-90) scale(0.9 1)" font-size="8.6" text-anchor="middle" fill="#1a1a1a" stroke="#1a1a1a" stroke-width="0.1" >H3K27ac</text>
<path d="M378.8 418.7 L382 422.6 L375.6 422.6Z" fill="#3a9a50"/>
<path d="M395.8 418.7 L399 422.6 L392.6 422.6Z" fill="#3a9a50"/>
<text x="0" y="0" transform="translate(378.8 433) scale(0.9 1)" font-size="8" text-anchor="middle" fill="#222" stroke="#222" stroke-width="0.1" >PP</text>
<text x="0" y="0" transform="translate(396.3 433) scale(0.9 1)" font-size="8" text-anchor="middle" fill="#222" stroke="#222" stroke-width="0.1" >URE</text>
<rect x="0" y="0" width="520" height="1.4" fill="#000"/><rect x="0" y="0" width="1.1" height="606" fill="#000"/><rect x="518.9" y="0" width="1.1" height="606" fill="#000"/><rect x="0" y="604.3" width="520" height="1.7" fill="#3c3c3c"/>
</svg></body></html>
